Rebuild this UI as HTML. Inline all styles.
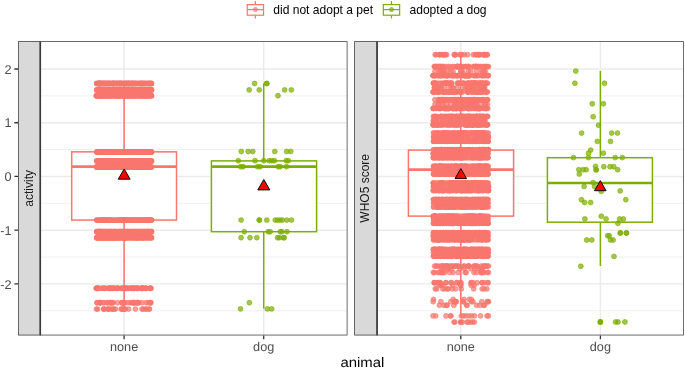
<!DOCTYPE html>
<html><head><meta charset="utf-8"><title>chart</title>
<style>
html,body{margin:0;padding:0;background:#fff;}
body{width:685px;height:369px;overflow:hidden;}
svg{display:block;font-family:"Liberation Sans",sans-serif;will-change:transform;}
.s circle{fill:#F8766D;fill-opacity:.7;stroke:#F8766D;stroke-opacity:.7;stroke-width:.9;r:2.45px}
.g circle{fill:#7CAE00;fill-opacity:.7;stroke:#7CAE00;stroke-opacity:.7;stroke-width:.9;r:2.45px}
.ax{font-size:12.7px;fill:#4D4D4D;text-rendering:geometricPrecision}
</style></head><body>
<svg width="685" height="369" viewBox="0 0 685 369">
<rect width="685" height="369" fill="#fff"/>
<rect x="40.3" y="41.2" width="307.2" height="294.2" fill="#fff"/>
<path d="M40.3 310.75H347.5M40.3 257.03H347.5M40.3 203.31H347.5M40.3 149.59H347.5M40.3 95.87H347.5" stroke="#EBEBEB" stroke-width=".75" fill="none"/>
<path d="M40.3 283.89H347.5M40.3 230.17H347.5M40.3 176.45H347.5M40.3 122.73H347.5M40.3 69.01H347.5M124.1 41.2V335.45M263.7 41.2V335.45" stroke="#EBEBEB" stroke-width="1.45" fill="none"/>
<rect x="377.1" y="41.2" width="306.7" height="294.2" fill="#fff"/>
<path d="M377.1 310.75H683.8M377.1 257.03H683.8M377.1 203.31H683.8M377.1 149.59H683.8M377.1 95.87H683.8" stroke="#EBEBEB" stroke-width=".75" fill="none"/>
<path d="M377.1 283.89H683.8M377.1 230.17H683.8M377.1 176.45H683.8M377.1 122.73H683.8M377.1 69.01H683.8M460.8 41.2V335.45M600.4 41.2V335.45" stroke="#EBEBEB" stroke-width="1.45" fill="none"/>
<g stroke="#F8766D" fill="none" stroke-width="1.5"><path d="M124.1 83.5V151.85M124.1 220.1V309.1"/><rect x="71.7" y="151.85" width="104.8" height="68.2" fill="#fff"/><path d="M71.7 166.6H176.5" stroke-width="2.6"/></g>
<g stroke="#7CAE00" fill="none" stroke-width="1.5"><path d="M263.7 83.5V160.9M263.7 231.7V308.6"/><rect x="211.4" y="160.9" width="105.2" height="70.8" fill="#fff"/><path d="M211.4 166.6H316.6" stroke-width="2.6"/></g>
<g stroke="#F8766D" fill="none" stroke-width="1.5"><path d="M460.8 54.7V150.1M460.8 216.1V317.5"/><rect x="408.4" y="150.1" width="105.2" height="66.0" fill="#fff"/><path d="M408.4 169.6H513.6" stroke-width="2.6"/></g>
<g stroke="#7CAE00" fill="none" stroke-width="1.5"><path d="M600.4 71.1V157.7M600.4 222.2V265.9"/><rect x="547.4" y="157.7" width="105.0" height="64.5" fill="#fff"/><path d="M547.4 183.0H652.4" stroke-width="2.6"/></g>
<circle cx="600.3" cy="322" r="2.9" fill="#7CAE00"/>
<circle cx="460.8" cy="322.1" r="2.9" fill="#F8766D"/>
<path d="M96.8 83.5H151.4M96.8 89.9H151.4M96.8 95.7H151.4M96.8 152H151.4M96.8 161H151.4M96.8 167H151.4M96.8 220.1H151.4M96.8 231.7H151.4M96.8 237.7H151.4" stroke="#F8766D" stroke-opacity="1" stroke-width="5.9" stroke-linecap="round" fill="none"/>
<g class="s"><circle cx="100.2" cy="231.7" r="2.45"/><circle cx="108" cy="309.1" r="2.45"/><circle cx="111.1" cy="237.7" r="2.45"/><circle cx="139.7" cy="152" r="2.45"/><circle cx="138.6" cy="220.1" r="2.45"/><circle cx="119.9" cy="231.7" r="2.45"/><circle cx="97.6" cy="309.1" r="2.45"/><circle cx="123" cy="161" r="2.45"/><circle cx="104.7" cy="89.9" r="2.45"/><circle cx="116" cy="152" r="2.45"/><circle cx="112.4" cy="237.7" r="2.45"/><circle cx="144" cy="231.7" r="2.45"/><circle cx="143.1" cy="220.1" r="2.45"/><circle cx="141.2" cy="161" r="2.45"/><circle cx="151.2" cy="231.7" r="2.45"/><circle cx="148.5" cy="161" r="2.45"/><circle cx="98.4" cy="89.9" r="2.45"/><circle cx="134.7" cy="95.7" r="2.45"/><circle cx="147.9" cy="231.7" r="2.45"/><circle cx="115.3" cy="152" r="2.45"/><circle cx="99.9" cy="302.7" r="2.45"/><circle cx="134.3" cy="288.3" r="2.45"/><circle cx="128.3" cy="89.9" r="2.45"/><circle cx="145.5" cy="95.7" r="2.45"/><circle cx="108.5" cy="161" r="2.45"/><circle cx="102.8" cy="89.9" r="2.45"/><circle cx="146.3" cy="220.1" r="2.45"/><circle cx="124.4" cy="288.3" r="2.45"/><circle cx="100.7" cy="89.9" r="2.45"/><circle cx="124.3" cy="288.3" r="2.45"/><circle cx="130.5" cy="152" r="2.45"/><circle cx="124.5" cy="237.7" r="2.45"/><circle cx="97" cy="167" r="2.45"/><circle cx="120.4" cy="167" r="2.45"/><circle cx="114" cy="231.7" r="2.45"/><circle cx="151.6" cy="89.9" r="2.45"/><circle cx="100.5" cy="302.7" r="2.45"/><circle cx="99.1" cy="95.7" r="2.45"/><circle cx="101.2" cy="231.7" r="2.45"/><circle cx="105.2" cy="237.7" r="2.45"/><circle cx="105.6" cy="89.9" r="2.45"/><circle cx="97.3" cy="231.7" r="2.45"/><circle cx="103.3" cy="161" r="2.45"/><circle cx="123.8" cy="302.7" r="2.45"/><circle cx="110.3" cy="302.7" r="2.45"/><circle cx="126.9" cy="95.7" r="2.45"/><circle cx="141.9" cy="237.7" r="2.45"/><circle cx="138.6" cy="237.7" r="2.45"/><circle cx="148.7" cy="220.1" r="2.45"/><circle cx="138.9" cy="89.9" r="2.45"/><circle cx="125.9" cy="167" r="2.45"/><circle cx="122.9" cy="302.7" r="2.45"/><circle cx="145.7" cy="309.1" r="2.45"/><circle cx="142.5" cy="152" r="2.45"/><circle cx="141.9" cy="152" r="2.45"/><circle cx="131.2" cy="288.3" r="2.45"/><circle cx="107.7" cy="83.5" r="2.45"/><circle cx="140.5" cy="83.5" r="2.45"/><circle cx="134.2" cy="288.3" r="2.45"/><circle cx="127.3" cy="167" r="2.45"/><circle cx="120.3" cy="220.1" r="2.45"/><circle cx="99.8" cy="231.7" r="2.45"/><circle cx="116.5" cy="152" r="2.45"/><circle cx="126.1" cy="288.3" r="2.45"/><circle cx="113.6" cy="237.7" r="2.45"/><circle cx="115.3" cy="237.7" r="2.45"/><circle cx="142.7" cy="220.1" r="2.45"/><circle cx="142.8" cy="288.3" r="2.45"/><circle cx="151.3" cy="161" r="2.45"/><circle cx="112.4" cy="83.5" r="2.45"/><circle cx="104.4" cy="302.7" r="2.45"/><circle cx="128.6" cy="309.1" r="2.45"/><circle cx="105.5" cy="152" r="2.45"/><circle cx="115.4" cy="309.1" r="2.45"/><circle cx="97.8" cy="161" r="2.45"/><circle cx="136.2" cy="220.1" r="2.45"/><circle cx="100" cy="95.7" r="2.45"/><circle cx="125.4" cy="309.1" r="2.45"/><circle cx="136.5" cy="231.7" r="2.45"/><circle cx="136.9" cy="302.7" r="2.45"/><circle cx="113.2" cy="288.3" r="2.45"/><circle cx="123.8" cy="237.7" r="2.45"/><circle cx="99.2" cy="95.7" r="2.45"/><circle cx="127.4" cy="220.1" r="2.45"/><circle cx="140" cy="167" r="2.45"/><circle cx="135.6" cy="237.7" r="2.45"/><circle cx="125.4" cy="288.3" r="2.45"/><circle cx="136.7" cy="167" r="2.45"/><circle cx="102.3" cy="237.7" r="2.45"/><circle cx="118.4" cy="220.1" r="2.45"/><circle cx="104.4" cy="161" r="2.45"/><circle cx="107.3" cy="302.7" r="2.45"/><circle cx="128.8" cy="167" r="2.45"/><circle cx="116.8" cy="95.7" r="2.45"/><circle cx="144.1" cy="83.5" r="2.45"/><circle cx="97.9" cy="288.3" r="2.45"/><circle cx="137.1" cy="288.3" r="2.45"/><circle cx="120.4" cy="83.5" r="2.45"/><circle cx="106.1" cy="237.7" r="2.45"/><circle cx="125.6" cy="237.7" r="2.45"/><circle cx="145.3" cy="288.3" r="2.45"/><circle cx="126.5" cy="152" r="2.45"/><circle cx="139.9" cy="161" r="2.45"/><circle cx="121.8" cy="167" r="2.45"/><circle cx="146.4" cy="161" r="2.45"/><circle cx="109.1" cy="309.1" r="2.45"/><circle cx="144.3" cy="231.7" r="2.45"/><circle cx="97.6" cy="95.7" r="2.45"/><circle cx="137.3" cy="302.7" r="2.45"/><circle cx="122.7" cy="288.3" r="2.45"/><circle cx="137.5" cy="237.7" r="2.45"/><circle cx="143.8" cy="152" r="2.45"/><circle cx="142.8" cy="288.3" r="2.45"/><circle cx="147.5" cy="231.7" r="2.45"/><circle cx="142.3" cy="83.5" r="2.45"/><circle cx="126.1" cy="83.5" r="2.45"/><circle cx="108.5" cy="220.1" r="2.45"/><circle cx="99.4" cy="231.7" r="2.45"/><circle cx="101.2" cy="288.3" r="2.45"/><circle cx="110.3" cy="167" r="2.45"/><circle cx="124.1" cy="237.7" r="2.45"/><circle cx="148.4" cy="302.7" r="2.45"/><circle cx="123.4" cy="220.1" r="2.45"/><circle cx="112.5" cy="167" r="2.45"/><circle cx="123.2" cy="152" r="2.45"/><circle cx="126.8" cy="83.5" r="2.45"/><circle cx="111.2" cy="302.7" r="2.45"/><circle cx="151.2" cy="152" r="2.45"/><circle cx="139.3" cy="152" r="2.45"/><circle cx="136.9" cy="89.9" r="2.45"/><circle cx="120.9" cy="220.1" r="2.45"/><circle cx="128.9" cy="83.5" r="2.45"/><circle cx="101.9" cy="152" r="2.45"/><circle cx="135" cy="89.9" r="2.45"/><circle cx="116.1" cy="288.3" r="2.45"/><circle cx="131" cy="231.7" r="2.45"/><circle cx="102.1" cy="288.3" r="2.45"/><circle cx="136.6" cy="161" r="2.45"/><circle cx="146.3" cy="309.1" r="2.45"/><circle cx="131.2" cy="288.3" r="2.45"/><circle cx="145.5" cy="220.1" r="2.45"/><circle cx="122.7" cy="89.9" r="2.45"/><circle cx="122.1" cy="302.7" r="2.45"/><circle cx="139" cy="302.7" r="2.45"/><circle cx="112.1" cy="89.9" r="2.45"/><circle cx="97.5" cy="288.3" r="2.45"/><circle cx="104.5" cy="152" r="2.45"/><circle cx="140.9" cy="161" r="2.45"/><circle cx="111.8" cy="161" r="2.45"/><circle cx="114.4" cy="167" r="2.45"/><circle cx="107.1" cy="231.7" r="2.45"/><circle cx="120.8" cy="231.7" r="2.45"/><circle cx="107.4" cy="288.3" r="2.45"/><circle cx="117.5" cy="288.3" r="2.45"/><circle cx="125.7" cy="288.3" r="2.45"/><circle cx="97.2" cy="302.7" r="2.45"/><circle cx="104.2" cy="83.5" r="2.45"/><circle cx="138.4" cy="89.9" r="2.45"/><circle cx="98.8" cy="83.5" r="2.45"/><circle cx="130.4" cy="220.1" r="2.45"/><circle cx="138" cy="288.3" r="2.45"/><circle cx="128.4" cy="83.5" r="2.45"/><circle cx="126.9" cy="237.7" r="2.45"/><circle cx="109.6" cy="220.1" r="2.45"/><circle cx="102.1" cy="167" r="2.45"/><circle cx="140.8" cy="161" r="2.45"/><circle cx="115.6" cy="152" r="2.45"/><circle cx="103.1" cy="152" r="2.45"/><circle cx="131.6" cy="95.7" r="2.45"/><circle cx="144.8" cy="167" r="2.45"/><circle cx="125.9" cy="152" r="2.45"/><circle cx="126.7" cy="288.3" r="2.45"/><circle cx="104.1" cy="309.1" r="2.45"/><circle cx="110.7" cy="167" r="2.45"/><circle cx="134.9" cy="220.1" r="2.45"/><circle cx="106" cy="95.7" r="2.45"/><circle cx="127.4" cy="288.3" r="2.45"/><circle cx="150.6" cy="302.7" r="2.45"/><circle cx="151.1" cy="288.3" r="2.45"/><circle cx="124.8" cy="220.1" r="2.45"/><circle cx="150.9" cy="161" r="2.45"/><circle cx="139.7" cy="95.7" r="2.45"/><circle cx="143.1" cy="288.3" r="2.45"/><circle cx="139.1" cy="89.9" r="2.45"/><circle cx="145.1" cy="89.9" r="2.45"/><circle cx="115.8" cy="161" r="2.45"/><circle cx="96.4" cy="288.3" r="2.45"/><circle cx="125.1" cy="152" r="2.45"/><circle cx="142.6" cy="237.7" r="2.45"/><circle cx="140.2" cy="231.7" r="2.45"/><circle cx="132.5" cy="83.5" r="2.45"/><circle cx="141.5" cy="288.3" r="2.45"/><circle cx="115.6" cy="237.7" r="2.45"/><circle cx="99.7" cy="83.5" r="2.45"/><circle cx="135.3" cy="231.7" r="2.45"/><circle cx="96.3" cy="288.3" r="2.45"/><circle cx="136.2" cy="288.3" r="2.45"/><circle cx="103.4" cy="237.7" r="2.45"/><circle cx="106.8" cy="237.7" r="2.45"/><circle cx="127.2" cy="167" r="2.45"/><circle cx="115.9" cy="167" r="2.45"/><circle cx="96.4" cy="309.1" r="2.45"/><circle cx="128.2" cy="89.9" r="2.45"/><circle cx="99.4" cy="83.5" r="2.45"/><circle cx="126.8" cy="167" r="2.45"/><circle cx="110.8" cy="152" r="2.45"/><circle cx="106.2" cy="161" r="2.45"/><circle cx="134.4" cy="302.7" r="2.45"/><circle cx="99.9" cy="231.7" r="2.45"/><circle cx="110.9" cy="288.3" r="2.45"/><circle cx="121.5" cy="231.7" r="2.45"/><circle cx="117.7" cy="89.9" r="2.45"/><circle cx="133.9" cy="302.7" r="2.45"/><circle cx="102.7" cy="89.9" r="2.45"/><circle cx="108.9" cy="152" r="2.45"/><circle cx="134.8" cy="161" r="2.45"/><circle cx="111.2" cy="309.1" r="2.45"/><circle cx="148.9" cy="89.9" r="2.45"/><circle cx="147.1" cy="231.7" r="2.45"/><circle cx="110.6" cy="231.7" r="2.45"/><circle cx="124.3" cy="288.3" r="2.45"/><circle cx="133.3" cy="89.9" r="2.45"/><circle cx="141.9" cy="95.7" r="2.45"/><circle cx="124.5" cy="220.1" r="2.45"/><circle cx="97.2" cy="237.7" r="2.45"/><circle cx="116.3" cy="288.3" r="2.45"/><circle cx="147.1" cy="220.1" r="2.45"/><circle cx="147.4" cy="167" r="2.45"/><circle cx="115.6" cy="237.7" r="2.45"/><circle cx="108.7" cy="83.5" r="2.45"/><circle cx="122.9" cy="161" r="2.45"/><circle cx="124.4" cy="220.1" r="2.45"/><circle cx="151.4" cy="220.1" r="2.45"/><circle cx="98.3" cy="83.5" r="2.45"/><circle cx="116.2" cy="95.7" r="2.45"/><circle cx="133.7" cy="302.7" r="2.45"/><circle cx="121.3" cy="309.1" r="2.45"/><circle cx="109.8" cy="288.3" r="2.45"/><circle cx="148.8" cy="220.1" r="2.45"/><circle cx="107.7" cy="302.7" r="2.45"/><circle cx="125.1" cy="167" r="2.45"/><circle cx="115.1" cy="231.7" r="2.45"/><circle cx="131.6" cy="231.7" r="2.45"/><circle cx="124.5" cy="83.5" r="2.45"/><circle cx="118.5" cy="95.7" r="2.45"/><circle cx="99.2" cy="237.7" r="2.45"/><circle cx="146" cy="288.3" r="2.45"/><circle cx="144.4" cy="95.7" r="2.45"/><circle cx="140.7" cy="288.3" r="2.45"/><circle cx="149.4" cy="309.1" r="2.45"/><circle cx="133" cy="220.1" r="2.45"/><circle cx="100.9" cy="231.7" r="2.45"/><circle cx="122.2" cy="302.7" r="2.45"/><circle cx="104.2" cy="220.1" r="2.45"/><circle cx="110.2" cy="237.7" r="2.45"/><circle cx="144.8" cy="288.3" r="2.45"/><circle cx="96.9" cy="302.7" r="2.45"/><circle cx="109.8" cy="83.5" r="2.45"/><circle cx="98.6" cy="288.3" r="2.45"/><circle cx="125.7" cy="152" r="2.45"/><circle cx="110.7" cy="161" r="2.45"/><circle cx="142" cy="302.7" r="2.45"/><circle cx="113.2" cy="302.7" r="2.45"/><circle cx="129.4" cy="89.9" r="2.45"/><circle cx="150.2" cy="302.7" r="2.45"/><circle cx="97.8" cy="152" r="2.45"/><circle cx="104.5" cy="231.7" r="2.45"/><circle cx="151.6" cy="152" r="2.45"/><circle cx="104" cy="288.3" r="2.45"/><circle cx="143.1" cy="309.1" r="2.45"/><circle cx="150.2" cy="220.1" r="2.45"/><circle cx="118" cy="89.9" r="2.45"/><circle cx="103.5" cy="167" r="2.45"/><circle cx="108.6" cy="152" r="2.45"/><circle cx="108.9" cy="161" r="2.45"/><circle cx="107.6" cy="161" r="2.45"/><circle cx="105.2" cy="220.1" r="2.45"/><circle cx="112.6" cy="288.3" r="2.45"/><circle cx="135.4" cy="309.1" r="2.45"/><circle cx="111.9" cy="288.3" r="2.45"/><circle cx="148.8" cy="220.1" r="2.45"/><circle cx="145.5" cy="95.7" r="2.45"/><circle cx="114.6" cy="152" r="2.45"/><circle cx="103.4" cy="89.9" r="2.45"/><circle cx="121.5" cy="83.5" r="2.45"/><circle cx="107.5" cy="237.7" r="2.45"/><circle cx="144.4" cy="152" r="2.45"/><circle cx="131.1" cy="288.3" r="2.45"/><circle cx="133.6" cy="220.1" r="2.45"/><circle cx="111.7" cy="95.7" r="2.45"/><circle cx="131.9" cy="83.5" r="2.45"/><circle cx="113.4" cy="83.5" r="2.45"/><circle cx="132.1" cy="302.7" r="2.45"/><circle cx="132.3" cy="89.9" r="2.45"/><circle cx="123.6" cy="309.1" r="2.45"/><circle cx="127.8" cy="95.7" r="2.45"/><circle cx="141.7" cy="83.5" r="2.45"/><circle cx="133" cy="302.7" r="2.45"/><circle cx="142.1" cy="89.9" r="2.45"/><circle cx="141.9" cy="231.7" r="2.45"/><circle cx="149" cy="161" r="2.45"/><circle cx="99.6" cy="302.7" r="2.45"/><circle cx="127.9" cy="302.7" r="2.45"/><circle cx="119.4" cy="95.7" r="2.45"/><circle cx="125" cy="302.7" r="2.45"/><circle cx="134.6" cy="237.7" r="2.45"/><circle cx="105.2" cy="152" r="2.45"/><circle cx="145" cy="152" r="2.45"/><circle cx="130.7" cy="95.7" r="2.45"/><circle cx="109.6" cy="167" r="2.45"/><circle cx="145" cy="95.7" r="2.45"/><circle cx="119.8" cy="231.7" r="2.45"/><circle cx="121.1" cy="288.3" r="2.45"/><circle cx="109.2" cy="95.7" r="2.45"/><circle cx="97.2" cy="167" r="2.45"/><circle cx="110.9" cy="95.7" r="2.45"/><circle cx="99.5" cy="83.5" r="2.45"/><circle cx="105.8" cy="167" r="2.45"/><circle cx="111" cy="152" r="2.45"/><circle cx="100.2" cy="83.5" r="2.45"/><circle cx="109.1" cy="95.7" r="2.45"/><circle cx="147" cy="161" r="2.45"/><circle cx="121.2" cy="161" r="2.45"/><circle cx="139.7" cy="231.7" r="2.45"/><circle cx="109.2" cy="288.3" r="2.45"/><circle cx="149.1" cy="83.5" r="2.45"/><circle cx="125.4" cy="167" r="2.45"/><circle cx="104.1" cy="309.1" r="2.45"/><circle cx="116.5" cy="161" r="2.45"/><circle cx="150.8" cy="302.7" r="2.45"/><circle cx="146.4" cy="95.7" r="2.45"/><circle cx="104.6" cy="95.7" r="2.45"/><circle cx="112.9" cy="83.5" r="2.45"/><circle cx="105.7" cy="161" r="2.45"/><circle cx="142.8" cy="237.7" r="2.45"/><circle cx="98.5" cy="288.3" r="2.45"/><circle cx="104.6" cy="95.7" r="2.45"/><circle cx="105" cy="288.3" r="2.45"/><circle cx="106.3" cy="83.5" r="2.45"/><circle cx="97.7" cy="152" r="2.45"/><circle cx="113.8" cy="309.1" r="2.45"/><circle cx="150.4" cy="161" r="2.45"/><circle cx="103.1" cy="83.5" r="2.45"/><circle cx="107.8" cy="95.7" r="2.45"/><circle cx="128.8" cy="288.3" r="2.45"/><circle cx="118.1" cy="95.7" r="2.45"/><circle cx="111.7" cy="167" r="2.45"/><circle cx="147" cy="167" r="2.45"/><circle cx="141.1" cy="288.3" r="2.45"/><circle cx="97.1" cy="237.7" r="2.45"/><circle cx="135" cy="152" r="2.45"/><circle cx="118.5" cy="288.3" r="2.45"/><circle cx="108" cy="167" r="2.45"/><circle cx="100.4" cy="302.7" r="2.45"/><circle cx="120.9" cy="220.1" r="2.45"/><circle cx="116.6" cy="83.5" r="2.45"/><circle cx="121.8" cy="302.7" r="2.45"/><circle cx="149.3" cy="220.1" r="2.45"/><circle cx="131.7" cy="237.7" r="2.45"/><circle cx="137.5" cy="302.7" r="2.45"/><circle cx="132.6" cy="161" r="2.45"/><circle cx="142.3" cy="288.3" r="2.45"/><circle cx="139.9" cy="220.1" r="2.45"/><circle cx="132.9" cy="288.3" r="2.45"/><circle cx="149.3" cy="152" r="2.45"/><circle cx="134.2" cy="83.5" r="2.45"/><circle cx="102.8" cy="302.7" r="2.45"/><circle cx="133.5" cy="89.9" r="2.45"/><circle cx="115.1" cy="231.7" r="2.45"/><circle cx="132.9" cy="161" r="2.45"/><circle cx="124.8" cy="231.7" r="2.45"/><circle cx="100.1" cy="237.7" r="2.45"/><circle cx="115.2" cy="95.7" r="2.45"/><circle cx="127.1" cy="231.7" r="2.45"/><circle cx="121.8" cy="288.3" r="2.45"/><circle cx="104.4" cy="152" r="2.45"/><circle cx="99" cy="237.7" r="2.45"/><circle cx="150.5" cy="288.3" r="2.45"/><circle cx="118.3" cy="83.5" r="2.45"/><circle cx="132.1" cy="288.3" r="2.45"/><circle cx="140.7" cy="95.7" r="2.45"/><circle cx="96.5" cy="288.3" r="2.45"/><circle cx="105.3" cy="237.7" r="2.45"/><circle cx="150.7" cy="83.5" r="2.45"/><circle cx="122.9" cy="220.1" r="2.45"/><circle cx="135.2" cy="83.5" r="2.45"/><circle cx="142.3" cy="167" r="2.45"/><circle cx="111" cy="231.7" r="2.45"/><circle cx="127.1" cy="231.7" r="2.45"/><circle cx="124.6" cy="309.1" r="2.45"/><circle cx="118.8" cy="237.7" r="2.45"/><circle cx="148.6" cy="231.7" r="2.45"/><circle cx="127.5" cy="167" r="2.45"/><circle cx="133.5" cy="89.9" r="2.45"/><circle cx="122" cy="89.9" r="2.45"/><circle cx="133.9" cy="95.7" r="2.45"/><circle cx="123.5" cy="89.9" r="2.45"/><circle cx="150.1" cy="288.3" r="2.45"/><circle cx="132.5" cy="167" r="2.45"/><circle cx="128.9" cy="167" r="2.45"/><circle cx="124.3" cy="288.3" r="2.45"/><circle cx="121.4" cy="309.1" r="2.45"/><circle cx="120.1" cy="83.5" r="2.45"/><circle cx="114.3" cy="83.5" r="2.45"/><circle cx="124.2" cy="167" r="2.45"/><circle cx="104.8" cy="220.1" r="2.45"/><circle cx="103.5" cy="167" r="2.45"/><circle cx="151" cy="237.7" r="2.45"/><circle cx="109.5" cy="237.7" r="2.45"/><circle cx="104.6" cy="161" r="2.45"/><circle cx="131.2" cy="83.5" r="2.45"/><circle cx="110.4" cy="302.7" r="2.45"/><circle cx="101.3" cy="83.5" r="2.45"/><circle cx="150.8" cy="152" r="2.45"/><circle cx="142.3" cy="161" r="2.45"/><circle cx="150.4" cy="167" r="2.45"/><circle cx="102" cy="231.7" r="2.45"/><circle cx="138.1" cy="161" r="2.45"/><circle cx="117.9" cy="288.3" r="2.45"/><circle cx="105.3" cy="95.7" r="2.45"/><circle cx="128.9" cy="288.3" r="2.45"/><circle cx="145" cy="89.9" r="2.45"/><circle cx="149.4" cy="95.7" r="2.45"/><circle cx="100.9" cy="237.7" r="2.45"/><circle cx="97.2" cy="231.7" r="2.45"/><circle cx="139.3" cy="220.1" r="2.45"/><circle cx="140.8" cy="167" r="2.45"/><circle cx="140.9" cy="231.7" r="2.45"/><circle cx="128.6" cy="89.9" r="2.45"/><circle cx="149.6" cy="161" r="2.45"/><circle cx="100.2" cy="220.1" r="2.45"/><circle cx="143.6" cy="152" r="2.45"/><circle cx="107.9" cy="309.1" r="2.45"/><circle cx="117" cy="83.5" r="2.45"/><circle cx="112.4" cy="302.7" r="2.45"/><circle cx="141.2" cy="152" r="2.45"/><circle cx="110.3" cy="152" r="2.45"/><circle cx="107.2" cy="161" r="2.45"/><circle cx="119.6" cy="95.7" r="2.45"/><circle cx="110.1" cy="167" r="2.45"/><circle cx="123.3" cy="309.1" r="2.45"/><circle cx="114.4" cy="288.3" r="2.45"/><circle cx="143.1" cy="161" r="2.45"/><circle cx="118.3" cy="161" r="2.45"/><circle cx="102.1" cy="237.7" r="2.45"/><circle cx="100.1" cy="83.5" r="2.45"/><circle cx="123.3" cy="95.7" r="2.45"/><circle cx="103.9" cy="220.1" r="2.45"/><circle cx="110.9" cy="288.3" r="2.45"/><circle cx="101.9" cy="95.7" r="2.45"/><circle cx="149.5" cy="161" r="2.45"/><circle cx="111" cy="302.7" r="2.45"/><circle cx="116.7" cy="152" r="2.45"/><circle cx="142.8" cy="288.3" r="2.45"/><circle cx="135.2" cy="220.1" r="2.45"/><circle cx="130.6" cy="302.7" r="2.45"/><circle cx="121.3" cy="89.9" r="2.45"/><circle cx="125.5" cy="89.9" r="2.45"/><circle cx="99.7" cy="95.7" r="2.45"/><circle cx="149.6" cy="95.7" r="2.45"/><circle cx="121.4" cy="220.1" r="2.45"/><circle cx="135.3" cy="89.9" r="2.45"/><circle cx="146.7" cy="161" r="2.45"/><circle cx="125.6" cy="167" r="2.45"/><circle cx="118.1" cy="237.7" r="2.45"/><circle cx="141.5" cy="152" r="2.45"/><circle cx="109" cy="288.3" r="2.45"/><circle cx="148.3" cy="167" r="2.45"/><circle cx="125" cy="95.7" r="2.45"/><circle cx="137.7" cy="302.7" r="2.45"/><circle cx="120.8" cy="167" r="2.45"/><circle cx="149.9" cy="288.3" r="2.45"/><circle cx="134.9" cy="288.3" r="2.45"/><circle cx="96.4" cy="167" r="2.45"/><circle cx="96.4" cy="95.7" r="2.45"/><circle cx="113.7" cy="83.5" r="2.45"/><circle cx="146.1" cy="302.7" r="2.45"/><circle cx="134.8" cy="302.7" r="2.45"/><circle cx="110" cy="89.9" r="2.45"/><circle cx="113.7" cy="89.9" r="2.45"/><circle cx="133.1" cy="161" r="2.45"/><circle cx="128" cy="231.7" r="2.45"/><circle cx="145.1" cy="220.1" r="2.45"/><circle cx="146.7" cy="167" r="2.45"/><circle cx="125.7" cy="152" r="2.45"/><circle cx="113" cy="309.1" r="2.45"/><circle cx="103.4" cy="231.7" r="2.45"/><circle cx="140.2" cy="161" r="2.45"/><circle cx="116.5" cy="95.7" r="2.45"/><circle cx="111.3" cy="231.7" r="2.45"/><circle cx="117.5" cy="302.7" r="2.45"/><circle cx="137.1" cy="237.7" r="2.45"/><circle cx="96.2" cy="95.7" r="2.45"/><circle cx="149" cy="309.1" r="2.45"/><circle cx="122.2" cy="152" r="2.45"/><circle cx="137.5" cy="152" r="2.45"/><circle cx="118.6" cy="161" r="2.45"/><circle cx="119.6" cy="167" r="2.45"/><circle cx="144.8" cy="89.9" r="2.45"/><circle cx="121.7" cy="89.9" r="2.45"/><circle cx="103.6" cy="309.1" r="2.45"/><circle cx="123.5" cy="288.3" r="2.45"/><circle cx="103.6" cy="288.3" r="2.45"/><circle cx="102.8" cy="83.5" r="2.45"/><circle cx="119.7" cy="167" r="2.45"/><circle cx="101" cy="152" r="2.45"/><circle cx="104.5" cy="288.3" r="2.45"/><circle cx="150.4" cy="231.7" r="2.45"/><circle cx="99.6" cy="89.9" r="2.45"/><circle cx="120.3" cy="237.7" r="2.45"/><circle cx="125" cy="220.1" r="2.45"/><circle cx="146" cy="288.3" r="2.45"/><circle cx="113.5" cy="288.3" r="2.45"/><circle cx="150.9" cy="89.9" r="2.45"/><circle cx="99.5" cy="89.9" r="2.45"/><circle cx="114.8" cy="161" r="2.45"/><circle cx="109.7" cy="288.3" r="2.45"/><circle cx="128.7" cy="83.5" r="2.45"/><circle cx="142" cy="309.1" r="2.45"/><circle cx="148.4" cy="237.7" r="2.45"/><circle cx="131" cy="161" r="2.45"/><circle cx="114.7" cy="231.7" r="2.45"/><circle cx="136.6" cy="288.3" r="2.45"/><circle cx="127.5" cy="220.1" r="2.45"/><circle cx="106.4" cy="167" r="2.45"/><circle cx="97.5" cy="152" r="2.45"/><circle cx="103" cy="220.1" r="2.45"/><circle cx="119.5" cy="89.9" r="2.45"/><circle cx="129.1" cy="95.7" r="2.45"/><circle cx="110.7" cy="220.1" r="2.45"/><circle cx="112.3" cy="89.9" r="2.45"/><circle cx="126" cy="220.1" r="2.45"/><circle cx="138.1" cy="288.3" r="2.45"/><circle cx="113.2" cy="237.7" r="2.45"/><circle cx="97.5" cy="89.9" r="2.45"/><circle cx="103.4" cy="237.7" r="2.45"/><circle cx="110.5" cy="237.7" r="2.45"/><circle cx="143.1" cy="89.9" r="2.45"/><circle cx="122.7" cy="237.7" r="2.45"/><circle cx="122.6" cy="167" r="2.45"/><circle cx="100.3" cy="220.1" r="2.45"/><circle cx="119.9" cy="83.5" r="2.45"/><circle cx="100.9" cy="161" r="2.45"/><circle cx="102" cy="95.7" r="2.45"/><circle cx="133.6" cy="288.3" r="2.45"/><circle cx="134.6" cy="231.7" r="2.45"/><circle cx="98.4" cy="231.7" r="2.45"/><circle cx="104.6" cy="83.5" r="2.45"/></g>
<g class="g"><circle cx="249.2" cy="89.9" r="2.45"/><circle cx="254.6" cy="83.5" r="2.45"/><circle cx="259.2" cy="89.9" r="2.45"/><circle cx="266.6" cy="83.5" r="2.45"/><circle cx="266.9" cy="83.5" r="2.45"/><circle cx="278" cy="95.7" r="2.45"/><circle cx="284.7" cy="89.9" r="2.45"/><circle cx="291.3" cy="89.9" r="2.45"/><circle cx="241.3" cy="151.5" r="2.45"/><circle cx="248.2" cy="151.5" r="2.45"/><circle cx="252.8" cy="151.5" r="2.45"/><circle cx="274.8" cy="151.5" r="2.45"/><circle cx="286.7" cy="151.5" r="2.45"/><circle cx="290.7" cy="151.5" r="2.45"/><circle cx="238.3" cy="160.7" r="2.45"/><circle cx="255" cy="160.7" r="2.45"/><circle cx="263.8" cy="160.7" r="2.45"/><circle cx="269.2" cy="160.7" r="2.45"/><circle cx="271.8" cy="160.7" r="2.45"/><circle cx="274.4" cy="160.7" r="2.45"/><circle cx="286.3" cy="160.7" r="2.45"/><circle cx="288.3" cy="160.7" r="2.45"/><circle cx="240.7" cy="166.7" r="2.45"/><circle cx="243.1" cy="166.7" r="2.45"/><circle cx="257.6" cy="166.7" r="2.45"/><circle cx="260.2" cy="166.7" r="2.45"/><circle cx="278.2" cy="166.7" r="2.45"/><circle cx="280.3" cy="166.7" r="2.45"/><circle cx="286.5" cy="166.7" r="2.45"/><circle cx="241.1" cy="220.1" r="2.45"/><circle cx="259.2" cy="220.1" r="2.45"/><circle cx="259.5" cy="220.1" r="2.45"/><circle cx="266.8" cy="220.1" r="2.45"/><circle cx="275.2" cy="220.1" r="2.45"/><circle cx="277.6" cy="220.1" r="2.45"/><circle cx="280.1" cy="220.1" r="2.45"/><circle cx="282.3" cy="220.1" r="2.45"/><circle cx="286.9" cy="220.1" r="2.45"/><circle cx="291.5" cy="220.1" r="2.45"/><circle cx="244.3" cy="231.7" r="2.45"/><circle cx="268.2" cy="231.7" r="2.45"/><circle cx="270.2" cy="231.7" r="2.45"/><circle cx="280.3" cy="231.7" r="2.45"/><circle cx="281.9" cy="231.7" r="2.45"/><circle cx="286.9" cy="231.7" r="2.45"/><circle cx="241.1" cy="237.7" r="2.45"/><circle cx="250" cy="237.7" r="2.45"/><circle cx="256.8" cy="237.7" r="2.45"/><circle cx="277.6" cy="237.7" r="2.45"/><circle cx="279.3" cy="237.7" r="2.45"/><circle cx="283.3" cy="237.7" r="2.45"/><circle cx="284.3" cy="237.7" r="2.45"/><circle cx="240.5" cy="308.9" r="2.45"/><circle cx="249.4" cy="302.7" r="2.45"/><circle cx="267.3" cy="308.9" r="2.45"/><circle cx="271.7" cy="308.9" r="2.45"/></g>
<path d="M433.5 133.1H488.1M433.5 137.1H488.1M433.5 141.2H488.1M433.5 149.7H488.1M433.5 153.6H488.1M433.5 157.6H488.1M433.5 166.3H488.1M433.5 170.1H488.1M433.5 174.1H488.1M433.5 183H488.1M433.5 186.5H488.1M433.5 190.5H488.1M433.5 199.6H488.1M433.5 203H488.1M433.5 206.9H488.1M433.5 216.2H488.1M433.5 219.4H488.1M433.5 223.3H488.1M433.5 232.8H488.1M433.5 235.9H488.1M433.5 239.7H488.1" stroke="#F8766D" stroke-opacity="0.93" stroke-width="5.6" stroke-linecap="round" fill="none"/>
<g class="s"><circle cx="446.6" cy="206.9" r="2.45"/><circle cx="483.6" cy="235.9" r="2.45"/><circle cx="457.4" cy="235.9" r="2.45"/><circle cx="440.9" cy="149.7" r="2.45"/><circle cx="438.8" cy="282.7" r="2.45"/><circle cx="458.6" cy="223.3" r="2.45"/><circle cx="466.4" cy="256.1" r="2.45"/><circle cx="438.6" cy="120.7" r="2.45"/><circle cx="434.8" cy="170.1" r="2.45"/><circle cx="440" cy="219.4" r="2.45"/><circle cx="435.4" cy="137.1" r="2.45"/><circle cx="456.6" cy="235.9" r="2.45"/><circle cx="463.8" cy="239.7" r="2.45"/><circle cx="478.8" cy="149.7" r="2.45"/><circle cx="464" cy="299.4" r="2.45"/><circle cx="480.4" cy="133.1" r="2.45"/><circle cx="443.2" cy="232.8" r="2.45"/><circle cx="488.2" cy="190.5" r="2.45"/><circle cx="472.8" cy="199.6" r="2.45"/><circle cx="440.8" cy="99.8" r="2.45"/><circle cx="435" cy="66.6" r="2.45"/><circle cx="449.9" cy="170.1" r="2.45"/><circle cx="477.6" cy="266.1" r="2.45"/><circle cx="476.1" cy="256.1" r="2.45"/><circle cx="466.1" cy="249.5" r="2.45"/><circle cx="444.4" cy="153.6" r="2.45"/><circle cx="439.3" cy="249.5" r="2.45"/><circle cx="462.6" cy="99.8" r="2.45"/><circle cx="436.2" cy="116.5" r="2.45"/><circle cx="459.9" cy="256.1" r="2.45"/><circle cx="487.1" cy="315.9" r="2.45"/><circle cx="464.3" cy="206.9" r="2.45"/><circle cx="438.6" cy="124.8" r="2.45"/><circle cx="479.8" cy="116.5" r="2.45"/><circle cx="457.8" cy="120.7" r="2.45"/><circle cx="447.7" cy="116.5" r="2.45"/><circle cx="445.8" cy="282.7" r="2.45"/><circle cx="471.9" cy="157.6" r="2.45"/><circle cx="487.3" cy="272.5" r="2.45"/><circle cx="484.2" cy="71.3" r="2.45"/><circle cx="433.2" cy="120.7" r="2.45"/><circle cx="474.6" cy="166.3" r="2.45"/><circle cx="433.5" cy="223.3" r="2.45"/><circle cx="479.3" cy="223.3" r="2.45"/><circle cx="476.6" cy="104.2" r="2.45"/><circle cx="451.9" cy="249.5" r="2.45"/><circle cx="468.2" cy="170.1" r="2.45"/><circle cx="470.6" cy="239.7" r="2.45"/><circle cx="445.4" cy="266.1" r="2.45"/><circle cx="451.9" cy="252.4" r="2.45"/><circle cx="434.2" cy="256.1" r="2.45"/><circle cx="451.4" cy="124.8" r="2.45"/><circle cx="458.1" cy="149.7" r="2.45"/><circle cx="468.9" cy="266.1" r="2.45"/><circle cx="450.2" cy="83.2" r="2.45"/><circle cx="461.5" cy="206.9" r="2.45"/><circle cx="471.5" cy="87.8" r="2.45"/><circle cx="474.9" cy="99.8" r="2.45"/><circle cx="450.8" cy="157.6" r="2.45"/><circle cx="449.5" cy="239.7" r="2.45"/><circle cx="474.3" cy="83.2" r="2.45"/><circle cx="473.6" cy="124.8" r="2.45"/><circle cx="463" cy="116.5" r="2.45"/><circle cx="436.6" cy="203" r="2.45"/><circle cx="440.9" cy="116.5" r="2.45"/><circle cx="480.1" cy="54.7" r="2.45"/><circle cx="442.3" cy="71.3" r="2.45"/><circle cx="447.8" cy="108.4" r="2.45"/><circle cx="434.8" cy="116.5" r="2.45"/><circle cx="448.9" cy="92" r="2.45"/><circle cx="447.2" cy="92" r="2.45"/><circle cx="438" cy="92" r="2.45"/><circle cx="471.3" cy="299.4" r="2.45"/><circle cx="454.6" cy="186.5" r="2.45"/><circle cx="476.6" cy="108.4" r="2.45"/><circle cx="487.1" cy="203" r="2.45"/><circle cx="460.7" cy="92" r="2.45"/><circle cx="438.2" cy="239.7" r="2.45"/><circle cx="436.1" cy="108.4" r="2.45"/><circle cx="453.7" cy="249.5" r="2.45"/><circle cx="472.1" cy="99.8" r="2.45"/><circle cx="465.5" cy="75.6" r="2.45"/><circle cx="468.6" cy="256.1" r="2.45"/><circle cx="434.4" cy="87.8" r="2.45"/><circle cx="456.5" cy="170.1" r="2.45"/><circle cx="435.1" cy="120.7" r="2.45"/><circle cx="451.4" cy="116.5" r="2.45"/><circle cx="472.3" cy="203" r="2.45"/><circle cx="435.4" cy="249.5" r="2.45"/><circle cx="462.5" cy="239.7" r="2.45"/><circle cx="465.3" cy="252.4" r="2.45"/><circle cx="466.8" cy="83.2" r="2.45"/><circle cx="474.3" cy="108.4" r="2.45"/><circle cx="455.8" cy="301.7" r="2.45"/><circle cx="485.3" cy="141.2" r="2.45"/><circle cx="471" cy="282.7" r="2.45"/><circle cx="465.8" cy="249.5" r="2.45"/><circle cx="487.8" cy="108.4" r="2.45"/><circle cx="482.8" cy="116.5" r="2.45"/><circle cx="447.3" cy="256.1" r="2.45"/><circle cx="454.9" cy="219.4" r="2.45"/><circle cx="474.3" cy="256.1" r="2.45"/><circle cx="452.6" cy="190.5" r="2.45"/><circle cx="448.6" cy="108.4" r="2.45"/><circle cx="459.9" cy="203" r="2.45"/><circle cx="467.5" cy="239.7" r="2.45"/><circle cx="466.8" cy="216.2" r="2.45"/><circle cx="475.5" cy="120.7" r="2.45"/><circle cx="472.8" cy="157.6" r="2.45"/><circle cx="447.7" cy="190.5" r="2.45"/><circle cx="481.8" cy="256.1" r="2.45"/><circle cx="452.4" cy="288.9" r="2.45"/><circle cx="463.5" cy="223.3" r="2.45"/><circle cx="460.5" cy="92" r="2.45"/><circle cx="442" cy="157.6" r="2.45"/><circle cx="441.7" cy="235.9" r="2.45"/><circle cx="439.2" cy="285.3" r="2.45"/><circle cx="475.1" cy="249.5" r="2.45"/><circle cx="466.9" cy="120.7" r="2.45"/><circle cx="485.6" cy="92" r="2.45"/><circle cx="461.5" cy="104.2" r="2.45"/><circle cx="478.2" cy="239.7" r="2.45"/><circle cx="435.3" cy="190.5" r="2.45"/><circle cx="451.8" cy="116.5" r="2.45"/><circle cx="486.2" cy="170.1" r="2.45"/><circle cx="438.6" cy="108.4" r="2.45"/><circle cx="437.9" cy="219.4" r="2.45"/><circle cx="436.5" cy="137.1" r="2.45"/><circle cx="465.8" cy="87.8" r="2.45"/><circle cx="471.5" cy="219.4" r="2.45"/><circle cx="449.7" cy="120.7" r="2.45"/><circle cx="444.7" cy="116.5" r="2.45"/><circle cx="461" cy="92" r="2.45"/><circle cx="446" cy="66.6" r="2.45"/><circle cx="482.6" cy="199.6" r="2.45"/><circle cx="473.6" cy="99.8" r="2.45"/><circle cx="433.8" cy="157.6" r="2.45"/><circle cx="445.2" cy="141.2" r="2.45"/><circle cx="474.8" cy="223.3" r="2.45"/><circle cx="442.8" cy="206.9" r="2.45"/><circle cx="468.9" cy="75.6" r="2.45"/><circle cx="444.2" cy="149.7" r="2.45"/><circle cx="435.4" cy="199.6" r="2.45"/><circle cx="438.5" cy="249.5" r="2.45"/><circle cx="450.2" cy="174.1" r="2.45"/><circle cx="485.4" cy="83.2" r="2.45"/><circle cx="462.6" cy="190.5" r="2.45"/><circle cx="487.7" cy="66.6" r="2.45"/><circle cx="473" cy="301.7" r="2.45"/><circle cx="443" cy="137.1" r="2.45"/><circle cx="462" cy="133.1" r="2.45"/><circle cx="457.4" cy="116.5" r="2.45"/><circle cx="442" cy="235.9" r="2.45"/><circle cx="453.3" cy="116.5" r="2.45"/><circle cx="451.1" cy="232.8" r="2.45"/><circle cx="472.1" cy="223.3" r="2.45"/><circle cx="450" cy="66.6" r="2.45"/><circle cx="481.6" cy="157.6" r="2.45"/><circle cx="455.6" cy="75.6" r="2.45"/><circle cx="444.2" cy="92" r="2.45"/><circle cx="467.5" cy="199.6" r="2.45"/><circle cx="485.4" cy="256.1" r="2.45"/><circle cx="435.7" cy="120.7" r="2.45"/><circle cx="470.2" cy="149.7" r="2.45"/><circle cx="447.1" cy="137.1" r="2.45"/><circle cx="451.4" cy="268.8" r="2.45"/><circle cx="456.8" cy="124.8" r="2.45"/><circle cx="487.4" cy="124.8" r="2.45"/><circle cx="433.6" cy="141.2" r="2.45"/><circle cx="450.2" cy="256.1" r="2.45"/><circle cx="477.6" cy="249.5" r="2.45"/><circle cx="465.7" cy="239.7" r="2.45"/><circle cx="468.3" cy="92" r="2.45"/><circle cx="437.7" cy="92" r="2.45"/><circle cx="482.5" cy="92" r="2.45"/><circle cx="467" cy="249.5" r="2.45"/><circle cx="479.3" cy="92" r="2.45"/><circle cx="443.9" cy="256.1" r="2.45"/><circle cx="447.4" cy="83.2" r="2.45"/><circle cx="480.6" cy="235.9" r="2.45"/><circle cx="454.2" cy="157.6" r="2.45"/><circle cx="482.3" cy="99.8" r="2.45"/><circle cx="468.5" cy="75.6" r="2.45"/><circle cx="439.8" cy="54.7" r="2.45"/><circle cx="441.9" cy="216.2" r="2.45"/><circle cx="468.5" cy="219.4" r="2.45"/><circle cx="436.1" cy="153.6" r="2.45"/><circle cx="477.8" cy="54.7" r="2.45"/><circle cx="444.3" cy="186.5" r="2.45"/><circle cx="443.3" cy="108.4" r="2.45"/><circle cx="460" cy="268.8" r="2.45"/><circle cx="456.7" cy="137.1" r="2.45"/><circle cx="442.3" cy="232.8" r="2.45"/><circle cx="480.7" cy="87.8" r="2.45"/><circle cx="468.1" cy="83.2" r="2.45"/><circle cx="462.9" cy="186.5" r="2.45"/><circle cx="444.9" cy="92" r="2.45"/><circle cx="469.2" cy="174.1" r="2.45"/><circle cx="486.5" cy="249.5" r="2.45"/><circle cx="484.7" cy="219.4" r="2.45"/><circle cx="463.5" cy="249.5" r="2.45"/><circle cx="452.8" cy="75.6" r="2.45"/><circle cx="452.6" cy="199.6" r="2.45"/><circle cx="471.7" cy="219.4" r="2.45"/><circle cx="459.9" cy="116.5" r="2.45"/><circle cx="485.7" cy="137.1" r="2.45"/><circle cx="461.1" cy="170.1" r="2.45"/><circle cx="454" cy="322.1" r="2.45"/><circle cx="480.1" cy="232.8" r="2.45"/><circle cx="462.2" cy="166.3" r="2.45"/><circle cx="446.8" cy="199.6" r="2.45"/><circle cx="451.3" cy="256.1" r="2.45"/><circle cx="471.1" cy="133.1" r="2.45"/><circle cx="445.4" cy="108.4" r="2.45"/><circle cx="452.1" cy="239.7" r="2.45"/><circle cx="441" cy="124.8" r="2.45"/><circle cx="470.8" cy="216.2" r="2.45"/><circle cx="449.3" cy="108.4" r="2.45"/><circle cx="478.2" cy="153.6" r="2.45"/><circle cx="473.2" cy="203" r="2.45"/><circle cx="486.7" cy="186.5" r="2.45"/><circle cx="436.2" cy="219.4" r="2.45"/><circle cx="484.2" cy="120.7" r="2.45"/><circle cx="450.6" cy="149.7" r="2.45"/><circle cx="487.9" cy="141.2" r="2.45"/><circle cx="484.1" cy="249.5" r="2.45"/><circle cx="484.7" cy="149.7" r="2.45"/><circle cx="459.1" cy="108.4" r="2.45"/><circle cx="454.8" cy="141.2" r="2.45"/><circle cx="451" cy="235.9" r="2.45"/><circle cx="458.9" cy="83.2" r="2.45"/><circle cx="485.2" cy="166.3" r="2.45"/><circle cx="435.1" cy="216.2" r="2.45"/><circle cx="436.2" cy="239.7" r="2.45"/><circle cx="453.9" cy="203" r="2.45"/><circle cx="446.5" cy="75.6" r="2.45"/><circle cx="443.7" cy="249.5" r="2.45"/><circle cx="439.1" cy="219.4" r="2.45"/><circle cx="440.8" cy="87.8" r="2.45"/><circle cx="473.8" cy="266.1" r="2.45"/><circle cx="439.1" cy="249.5" r="2.45"/><circle cx="471.4" cy="282.7" r="2.45"/><circle cx="437.7" cy="219.4" r="2.45"/><circle cx="439.1" cy="92" r="2.45"/><circle cx="486" cy="170.1" r="2.45"/><circle cx="460.5" cy="157.6" r="2.45"/><circle cx="457.3" cy="92" r="2.45"/><circle cx="484.2" cy="232.8" r="2.45"/><circle cx="447.3" cy="149.7" r="2.45"/><circle cx="456.9" cy="99.8" r="2.45"/><circle cx="446.5" cy="203" r="2.45"/><circle cx="481.3" cy="133.1" r="2.45"/><circle cx="470.9" cy="249.5" r="2.45"/><circle cx="479.4" cy="108.4" r="2.45"/><circle cx="476.1" cy="232.8" r="2.45"/><circle cx="468.9" cy="75.6" r="2.45"/><circle cx="486.4" cy="137.1" r="2.45"/><circle cx="476.5" cy="104.2" r="2.45"/><circle cx="470.6" cy="104.2" r="2.45"/><circle cx="439.2" cy="249.5" r="2.45"/><circle cx="446.3" cy="166.3" r="2.45"/><circle cx="459" cy="116.5" r="2.45"/><circle cx="445.5" cy="108.4" r="2.45"/><circle cx="468.7" cy="104.2" r="2.45"/><circle cx="453.2" cy="223.3" r="2.45"/><circle cx="456.7" cy="186.5" r="2.45"/><circle cx="444" cy="305.3" r="2.45"/><circle cx="468" cy="75.6" r="2.45"/><circle cx="443.4" cy="190.5" r="2.45"/><circle cx="478.2" cy="92" r="2.45"/><circle cx="442.1" cy="256.1" r="2.45"/><circle cx="477.8" cy="166.3" r="2.45"/><circle cx="455.2" cy="301.7" r="2.45"/><circle cx="444.6" cy="272.5" r="2.45"/><circle cx="479.7" cy="66.6" r="2.45"/><circle cx="435.7" cy="124.8" r="2.45"/><circle cx="441.3" cy="249.5" r="2.45"/><circle cx="458.6" cy="133.1" r="2.45"/><circle cx="463.4" cy="174.1" r="2.45"/><circle cx="455.4" cy="116.5" r="2.45"/><circle cx="483.6" cy="206.9" r="2.45"/><circle cx="445.1" cy="54.7" r="2.45"/><circle cx="482.3" cy="133.1" r="2.45"/><circle cx="437.8" cy="153.6" r="2.45"/><circle cx="434.5" cy="266.1" r="2.45"/><circle cx="455.1" cy="137.1" r="2.45"/><circle cx="444.3" cy="75.6" r="2.45"/><circle cx="443.8" cy="141.2" r="2.45"/><circle cx="484.4" cy="256.1" r="2.45"/><circle cx="481.6" cy="249.5" r="2.45"/><circle cx="476.1" cy="256.1" r="2.45"/><circle cx="468.1" cy="92" r="2.45"/><circle cx="487.6" cy="223.3" r="2.45"/><circle cx="449.4" cy="174.1" r="2.45"/><circle cx="482.6" cy="116.5" r="2.45"/><circle cx="474.5" cy="83.2" r="2.45"/><circle cx="436.6" cy="174.1" r="2.45"/><circle cx="435.2" cy="216.2" r="2.45"/><circle cx="462.4" cy="252.4" r="2.45"/><circle cx="460.8" cy="252.4" r="2.45"/><circle cx="449.8" cy="120.7" r="2.45"/><circle cx="471.6" cy="99.8" r="2.45"/><circle cx="449.9" cy="183" r="2.45"/><circle cx="433.2" cy="124.8" r="2.45"/><circle cx="485.2" cy="252.4" r="2.45"/><circle cx="460.2" cy="232.8" r="2.45"/><circle cx="463.3" cy="120.7" r="2.45"/><circle cx="434.5" cy="256.1" r="2.45"/><circle cx="464.2" cy="252.4" r="2.45"/><circle cx="464.5" cy="137.1" r="2.45"/><circle cx="461.7" cy="223.3" r="2.45"/><circle cx="442.8" cy="266.1" r="2.45"/><circle cx="445.9" cy="83.2" r="2.45"/><circle cx="458.2" cy="104.2" r="2.45"/><circle cx="451.4" cy="256.1" r="2.45"/><circle cx="447" cy="108.4" r="2.45"/><circle cx="440.7" cy="116.5" r="2.45"/><circle cx="454.5" cy="301.7" r="2.45"/><circle cx="466.5" cy="124.8" r="2.45"/><circle cx="460.7" cy="186.5" r="2.45"/><circle cx="488.6" cy="149.7" r="2.45"/><circle cx="486.4" cy="203" r="2.45"/><circle cx="438.9" cy="87.8" r="2.45"/><circle cx="436.3" cy="223.3" r="2.45"/><circle cx="475.9" cy="116.5" r="2.45"/><circle cx="481.6" cy="252.4" r="2.45"/><circle cx="444.6" cy="219.4" r="2.45"/><circle cx="470.7" cy="141.2" r="2.45"/><circle cx="452" cy="203" r="2.45"/><circle cx="452.9" cy="219.4" r="2.45"/><circle cx="438.9" cy="266.1" r="2.45"/><circle cx="483.3" cy="149.7" r="2.45"/><circle cx="472.9" cy="223.3" r="2.45"/><circle cx="444.2" cy="266.1" r="2.45"/><circle cx="440.7" cy="149.7" r="2.45"/><circle cx="477.1" cy="133.1" r="2.45"/><circle cx="487.5" cy="83.2" r="2.45"/><circle cx="433.7" cy="256.1" r="2.45"/><circle cx="463.8" cy="149.7" r="2.45"/><circle cx="479.3" cy="124.8" r="2.45"/><circle cx="481.7" cy="203" r="2.45"/><circle cx="460.6" cy="285.3" r="2.45"/><circle cx="486.9" cy="54.7" r="2.45"/><circle cx="433.5" cy="75.6" r="2.45"/><circle cx="439.8" cy="203" r="2.45"/><circle cx="451.8" cy="282.7" r="2.45"/><circle cx="464.3" cy="120.7" r="2.45"/><circle cx="485.6" cy="232.8" r="2.45"/><circle cx="455" cy="239.7" r="2.45"/><circle cx="464.3" cy="116.5" r="2.45"/><circle cx="468.6" cy="75.6" r="2.45"/><circle cx="479" cy="232.8" r="2.45"/><circle cx="455.6" cy="252.4" r="2.45"/><circle cx="477.1" cy="116.5" r="2.45"/><circle cx="468.4" cy="116.5" r="2.45"/><circle cx="482.8" cy="249.5" r="2.45"/><circle cx="447.1" cy="75.6" r="2.45"/><circle cx="448.7" cy="203" r="2.45"/><circle cx="440.9" cy="71.3" r="2.45"/><circle cx="451" cy="141.2" r="2.45"/><circle cx="456" cy="256.1" r="2.45"/><circle cx="459.8" cy="141.2" r="2.45"/><circle cx="475.7" cy="223.3" r="2.45"/><circle cx="449.3" cy="153.6" r="2.45"/><circle cx="476.3" cy="166.3" r="2.45"/><circle cx="441" cy="141.2" r="2.45"/><circle cx="475.2" cy="92" r="2.45"/><circle cx="456.8" cy="282.7" r="2.45"/><circle cx="434.8" cy="252.4" r="2.45"/><circle cx="472.5" cy="174.1" r="2.45"/><circle cx="464" cy="137.1" r="2.45"/><circle cx="463.6" cy="252.4" r="2.45"/><circle cx="457.2" cy="153.6" r="2.45"/><circle cx="466.5" cy="256.1" r="2.45"/><circle cx="465.6" cy="190.5" r="2.45"/><circle cx="444.8" cy="120.7" r="2.45"/><circle cx="438" cy="66.6" r="2.45"/><circle cx="483.9" cy="120.7" r="2.45"/><circle cx="459.1" cy="174.1" r="2.45"/><circle cx="462.2" cy="186.5" r="2.45"/><circle cx="476.8" cy="92" r="2.45"/><circle cx="442.9" cy="252.4" r="2.45"/><circle cx="465.8" cy="75.6" r="2.45"/><circle cx="460.7" cy="183" r="2.45"/><circle cx="453.3" cy="266.1" r="2.45"/><circle cx="466.4" cy="66.6" r="2.45"/><circle cx="434" cy="137.1" r="2.45"/><circle cx="481.2" cy="157.6" r="2.45"/><circle cx="480.5" cy="315.9" r="2.45"/><circle cx="453.7" cy="249.5" r="2.45"/><circle cx="466.3" cy="256.1" r="2.45"/><circle cx="448.6" cy="252.4" r="2.45"/><circle cx="436.6" cy="206.9" r="2.45"/><circle cx="487.3" cy="54.7" r="2.45"/><circle cx="458.5" cy="66.6" r="2.45"/><circle cx="482.2" cy="206.9" r="2.45"/><circle cx="479" cy="166.3" r="2.45"/><circle cx="467.4" cy="66.6" r="2.45"/><circle cx="482" cy="186.5" r="2.45"/><circle cx="447.5" cy="252.4" r="2.45"/><circle cx="459.5" cy="133.1" r="2.45"/><circle cx="488" cy="256.1" r="2.45"/><circle cx="478.6" cy="232.8" r="2.45"/><circle cx="464.9" cy="239.7" r="2.45"/><circle cx="454.9" cy="92" r="2.45"/><circle cx="440.8" cy="223.3" r="2.45"/><circle cx="486.1" cy="157.6" r="2.45"/><circle cx="438.6" cy="157.6" r="2.45"/><circle cx="464.2" cy="203" r="2.45"/><circle cx="433.5" cy="124.8" r="2.45"/><circle cx="434.6" cy="92" r="2.45"/><circle cx="447" cy="239.7" r="2.45"/><circle cx="483.4" cy="141.2" r="2.45"/><circle cx="439.7" cy="190.5" r="2.45"/><circle cx="463.8" cy="190.5" r="2.45"/><circle cx="450" cy="190.5" r="2.45"/><circle cx="461.9" cy="157.6" r="2.45"/><circle cx="435.1" cy="141.2" r="2.45"/><circle cx="464.8" cy="183" r="2.45"/><circle cx="437.1" cy="249.5" r="2.45"/><circle cx="452.2" cy="116.5" r="2.45"/><circle cx="478.6" cy="87.8" r="2.45"/><circle cx="458.3" cy="104.2" r="2.45"/><circle cx="447.7" cy="170.1" r="2.45"/><circle cx="436.8" cy="170.1" r="2.45"/><circle cx="457" cy="75.6" r="2.45"/><circle cx="483.9" cy="133.1" r="2.45"/><circle cx="484.8" cy="104.2" r="2.45"/><circle cx="453" cy="75.6" r="2.45"/><circle cx="484.3" cy="186.5" r="2.45"/><circle cx="454" cy="66.6" r="2.45"/><circle cx="479.1" cy="219.4" r="2.45"/><circle cx="465.2" cy="99.8" r="2.45"/><circle cx="472.3" cy="223.3" r="2.45"/><circle cx="458.2" cy="252.4" r="2.45"/><circle cx="462.7" cy="203" r="2.45"/><circle cx="468.5" cy="108.4" r="2.45"/><circle cx="448.2" cy="252.4" r="2.45"/><circle cx="487.8" cy="75.6" r="2.45"/><circle cx="476.1" cy="99.8" r="2.45"/><circle cx="437.6" cy="223.3" r="2.45"/><circle cx="464.4" cy="266.1" r="2.45"/><circle cx="451.9" cy="153.6" r="2.45"/><circle cx="457.2" cy="166.3" r="2.45"/><circle cx="449.1" cy="203" r="2.45"/><circle cx="476.4" cy="137.1" r="2.45"/><circle cx="442.1" cy="66.6" r="2.45"/><circle cx="485" cy="149.7" r="2.45"/><circle cx="477.6" cy="108.4" r="2.45"/><circle cx="465" cy="124.8" r="2.45"/><circle cx="478.1" cy="256.1" r="2.45"/><circle cx="457.4" cy="99.8" r="2.45"/><circle cx="481.5" cy="137.1" r="2.45"/><circle cx="471.7" cy="83.2" r="2.45"/><circle cx="446.8" cy="75.6" r="2.45"/><circle cx="485.2" cy="170.1" r="2.45"/><circle cx="439.7" cy="166.3" r="2.45"/><circle cx="456.8" cy="108.4" r="2.45"/><circle cx="471.1" cy="124.8" r="2.45"/><circle cx="451" cy="223.3" r="2.45"/><circle cx="438.8" cy="137.1" r="2.45"/><circle cx="461.8" cy="133.1" r="2.45"/><circle cx="446.2" cy="83.2" r="2.45"/><circle cx="457.9" cy="223.3" r="2.45"/><circle cx="485.2" cy="75.6" r="2.45"/><circle cx="460.4" cy="166.3" r="2.45"/><circle cx="458.2" cy="256.1" r="2.45"/><circle cx="472.7" cy="104.2" r="2.45"/><circle cx="488.4" cy="315.9" r="2.45"/><circle cx="453" cy="71.3" r="2.45"/><circle cx="466.8" cy="116.5" r="2.45"/><circle cx="477.4" cy="92" r="2.45"/><circle cx="472.7" cy="149.7" r="2.45"/><circle cx="447.6" cy="99.8" r="2.45"/><circle cx="441" cy="87.8" r="2.45"/><circle cx="488.6" cy="186.5" r="2.45"/><circle cx="471" cy="116.5" r="2.45"/><circle cx="454.1" cy="216.2" r="2.45"/><circle cx="469.1" cy="256.1" r="2.45"/><circle cx="470" cy="116.5" r="2.45"/><circle cx="452.6" cy="108.4" r="2.45"/><circle cx="477.4" cy="75.6" r="2.45"/><circle cx="453.1" cy="206.9" r="2.45"/><circle cx="463.9" cy="256.1" r="2.45"/><circle cx="480" cy="186.5" r="2.45"/><circle cx="442.4" cy="190.5" r="2.45"/><circle cx="452.3" cy="235.9" r="2.45"/><circle cx="436" cy="256.1" r="2.45"/><circle cx="445.5" cy="83.2" r="2.45"/><circle cx="457.5" cy="174.1" r="2.45"/><circle cx="479" cy="203" r="2.45"/><circle cx="433.8" cy="124.8" r="2.45"/><circle cx="484.6" cy="305.3" r="2.45"/><circle cx="441.2" cy="75.6" r="2.45"/><circle cx="436.9" cy="223.3" r="2.45"/><circle cx="442.3" cy="249.5" r="2.45"/><circle cx="451.6" cy="149.7" r="2.45"/><circle cx="456.5" cy="104.2" r="2.45"/><circle cx="484.9" cy="124.8" r="2.45"/><circle cx="441.2" cy="170.1" r="2.45"/><circle cx="457.1" cy="170.1" r="2.45"/><circle cx="448" cy="149.7" r="2.45"/><circle cx="446.5" cy="252.4" r="2.45"/><circle cx="487.7" cy="166.3" r="2.45"/><circle cx="481.6" cy="71.3" r="2.45"/><circle cx="445.3" cy="174.1" r="2.45"/><circle cx="456.3" cy="66.6" r="2.45"/><circle cx="473.8" cy="124.8" r="2.45"/><circle cx="439.7" cy="108.4" r="2.45"/><circle cx="447.5" cy="266.1" r="2.45"/><circle cx="445" cy="92" r="2.45"/><circle cx="441.8" cy="54.7" r="2.45"/><circle cx="451.2" cy="83.2" r="2.45"/><circle cx="440.8" cy="83.2" r="2.45"/><circle cx="465.4" cy="199.6" r="2.45"/><circle cx="470.8" cy="249.5" r="2.45"/><circle cx="479.8" cy="166.3" r="2.45"/><circle cx="434.8" cy="99.8" r="2.45"/><circle cx="452.7" cy="75.6" r="2.45"/><circle cx="441.5" cy="99.8" r="2.45"/><circle cx="449.1" cy="249.5" r="2.45"/><circle cx="459.7" cy="108.4" r="2.45"/><circle cx="448.7" cy="235.9" r="2.45"/><circle cx="446.9" cy="170.1" r="2.45"/><circle cx="468" cy="216.2" r="2.45"/><circle cx="461.8" cy="54.7" r="2.45"/><circle cx="484.6" cy="54.7" r="2.45"/><circle cx="456.1" cy="239.7" r="2.45"/><circle cx="488" cy="252.4" r="2.45"/><circle cx="479.1" cy="124.8" r="2.45"/><circle cx="459" cy="108.4" r="2.45"/><circle cx="464.3" cy="108.4" r="2.45"/><circle cx="452.5" cy="203" r="2.45"/><circle cx="437.1" cy="116.5" r="2.45"/><circle cx="433.9" cy="124.8" r="2.45"/><circle cx="433" cy="315.9" r="2.45"/><circle cx="433.7" cy="120.7" r="2.45"/><circle cx="462.5" cy="157.6" r="2.45"/><circle cx="448.1" cy="252.4" r="2.45"/><circle cx="433.1" cy="235.9" r="2.45"/><circle cx="460.2" cy="239.7" r="2.45"/><circle cx="469.9" cy="75.6" r="2.45"/><circle cx="488.6" cy="301.7" r="2.45"/><circle cx="470.6" cy="183" r="2.45"/><circle cx="457.7" cy="183" r="2.45"/><circle cx="454.4" cy="301.7" r="2.45"/><circle cx="481.7" cy="256.1" r="2.45"/><circle cx="488.4" cy="190.5" r="2.45"/><circle cx="487" cy="235.9" r="2.45"/><circle cx="447.4" cy="92" r="2.45"/><circle cx="441.2" cy="266.1" r="2.45"/><circle cx="473.8" cy="75.6" r="2.45"/><circle cx="471.4" cy="301.7" r="2.45"/><circle cx="481.1" cy="157.6" r="2.45"/><circle cx="440.1" cy="66.6" r="2.45"/><circle cx="458.8" cy="256.1" r="2.45"/><circle cx="463.2" cy="104.2" r="2.45"/><circle cx="461.4" cy="66.6" r="2.45"/><circle cx="443" cy="153.6" r="2.45"/><circle cx="438.6" cy="99.8" r="2.45"/><circle cx="486.8" cy="83.2" r="2.45"/><circle cx="484.8" cy="199.6" r="2.45"/><circle cx="446.8" cy="216.2" r="2.45"/><circle cx="440.7" cy="108.4" r="2.45"/><circle cx="459.5" cy="149.7" r="2.45"/><circle cx="463.4" cy="219.4" r="2.45"/><circle cx="438.6" cy="166.3" r="2.45"/><circle cx="448.2" cy="133.1" r="2.45"/><circle cx="461.4" cy="190.5" r="2.45"/><circle cx="462" cy="108.4" r="2.45"/><circle cx="443.6" cy="99.8" r="2.45"/><circle cx="485.6" cy="92" r="2.45"/><circle cx="474.5" cy="315.9" r="2.45"/><circle cx="453.7" cy="239.7" r="2.45"/><circle cx="456.2" cy="124.8" r="2.45"/><circle cx="488" cy="174.1" r="2.45"/><circle cx="457.8" cy="157.6" r="2.45"/><circle cx="456.2" cy="183" r="2.45"/><circle cx="452" cy="249.5" r="2.45"/><circle cx="459.5" cy="157.6" r="2.45"/><circle cx="477.1" cy="219.4" r="2.45"/><circle cx="454.4" cy="199.6" r="2.45"/><circle cx="447.7" cy="75.6" r="2.45"/><circle cx="482" cy="99.8" r="2.45"/><circle cx="466.5" cy="199.6" r="2.45"/><circle cx="445.6" cy="206.9" r="2.45"/><circle cx="452.4" cy="199.6" r="2.45"/><circle cx="471.9" cy="108.4" r="2.45"/><circle cx="476.1" cy="249.5" r="2.45"/><circle cx="450.9" cy="252.4" r="2.45"/><circle cx="480.4" cy="108.4" r="2.45"/><circle cx="477.9" cy="219.4" r="2.45"/><circle cx="457.4" cy="174.1" r="2.45"/><circle cx="475.3" cy="199.6" r="2.45"/><circle cx="456.5" cy="92" r="2.45"/><circle cx="473.2" cy="235.9" r="2.45"/><circle cx="473.2" cy="153.6" r="2.45"/><circle cx="454.3" cy="99.8" r="2.45"/><circle cx="441.9" cy="71.3" r="2.45"/><circle cx="475.5" cy="66.6" r="2.45"/><circle cx="465.4" cy="153.6" r="2.45"/><circle cx="483.8" cy="272.5" r="2.45"/><circle cx="455.7" cy="153.6" r="2.45"/><circle cx="449.1" cy="153.6" r="2.45"/><circle cx="443.9" cy="223.3" r="2.45"/><circle cx="438.9" cy="99.8" r="2.45"/><circle cx="438.3" cy="153.6" r="2.45"/><circle cx="472.8" cy="83.2" r="2.45"/><circle cx="445.1" cy="153.6" r="2.45"/><circle cx="436.3" cy="252.4" r="2.45"/><circle cx="473.3" cy="256.1" r="2.45"/><circle cx="472.8" cy="92" r="2.45"/><circle cx="441.8" cy="203" r="2.45"/><circle cx="436" cy="153.6" r="2.45"/><circle cx="482.1" cy="75.6" r="2.45"/><circle cx="451.8" cy="235.9" r="2.45"/><circle cx="482.5" cy="249.5" r="2.45"/><circle cx="433" cy="124.8" r="2.45"/><circle cx="451.2" cy="99.8" r="2.45"/><circle cx="434.5" cy="87.8" r="2.45"/><circle cx="441.9" cy="99.8" r="2.45"/><circle cx="440.5" cy="223.3" r="2.45"/><circle cx="446.9" cy="239.7" r="2.45"/><circle cx="473" cy="199.6" r="2.45"/><circle cx="480" cy="99.8" r="2.45"/><circle cx="453.5" cy="232.8" r="2.45"/><circle cx="455.3" cy="266.1" r="2.45"/><circle cx="446.2" cy="174.1" r="2.45"/><circle cx="478.9" cy="54.7" r="2.45"/><circle cx="466.3" cy="137.1" r="2.45"/><circle cx="451.7" cy="183" r="2.45"/><circle cx="443.3" cy="232.8" r="2.45"/><circle cx="485.6" cy="83.2" r="2.45"/><circle cx="451" cy="266.1" r="2.45"/><circle cx="481.4" cy="256.1" r="2.45"/><circle cx="456.4" cy="120.7" r="2.45"/><circle cx="483.4" cy="232.8" r="2.45"/><circle cx="453" cy="272.5" r="2.45"/><circle cx="464" cy="174.1" r="2.45"/><circle cx="435" cy="71.3" r="2.45"/><circle cx="478.4" cy="108.4" r="2.45"/><circle cx="483.9" cy="183" r="2.45"/><circle cx="483.1" cy="206.9" r="2.45"/><circle cx="433.1" cy="190.5" r="2.45"/><circle cx="461.8" cy="183" r="2.45"/><circle cx="465.3" cy="249.5" r="2.45"/><circle cx="478.6" cy="249.5" r="2.45"/><circle cx="486" cy="206.9" r="2.45"/><circle cx="482.2" cy="170.1" r="2.45"/><circle cx="488.5" cy="66.6" r="2.45"/><circle cx="446.3" cy="232.8" r="2.45"/><circle cx="449.6" cy="249.5" r="2.45"/><circle cx="472.1" cy="166.3" r="2.45"/><circle cx="474.1" cy="183" r="2.45"/><circle cx="444.4" cy="92" r="2.45"/><circle cx="441.2" cy="285.3" r="2.45"/><circle cx="472.6" cy="322.1" r="2.45"/><circle cx="438.5" cy="199.6" r="2.45"/><circle cx="449.7" cy="252.4" r="2.45"/><circle cx="476.1" cy="186.5" r="2.45"/><circle cx="488.5" cy="137.1" r="2.45"/><circle cx="434.6" cy="157.6" r="2.45"/><circle cx="443.4" cy="239.7" r="2.45"/><circle cx="476.8" cy="141.2" r="2.45"/><circle cx="437.7" cy="239.7" r="2.45"/><circle cx="461.1" cy="71.3" r="2.45"/><circle cx="480.3" cy="183" r="2.45"/><circle cx="447.2" cy="256.1" r="2.45"/><circle cx="470.8" cy="104.2" r="2.45"/><circle cx="482.8" cy="190.5" r="2.45"/><circle cx="442.4" cy="92" r="2.45"/><circle cx="436.6" cy="266.1" r="2.45"/><circle cx="467.9" cy="266.1" r="2.45"/><circle cx="476.4" cy="83.2" r="2.45"/><circle cx="475.5" cy="108.4" r="2.45"/><circle cx="470.6" cy="249.5" r="2.45"/><circle cx="456.4" cy="166.3" r="2.45"/><circle cx="469" cy="141.2" r="2.45"/><circle cx="485.8" cy="186.5" r="2.45"/><circle cx="438.7" cy="75.6" r="2.45"/><circle cx="456.3" cy="116.5" r="2.45"/><circle cx="454.5" cy="174.1" r="2.45"/><circle cx="440.5" cy="166.3" r="2.45"/><circle cx="449.7" cy="99.8" r="2.45"/><circle cx="473.8" cy="66.6" r="2.45"/><circle cx="479.7" cy="249.5" r="2.45"/><circle cx="481" cy="174.1" r="2.45"/><circle cx="454.7" cy="183" r="2.45"/><circle cx="478.7" cy="190.5" r="2.45"/><circle cx="434.9" cy="141.2" r="2.45"/><circle cx="466.8" cy="206.9" r="2.45"/><circle cx="478.6" cy="137.1" r="2.45"/><circle cx="433.2" cy="157.6" r="2.45"/><circle cx="472.2" cy="256.1" r="2.45"/><circle cx="488.4" cy="266.1" r="2.45"/><circle cx="486.7" cy="137.1" r="2.45"/><circle cx="457.4" cy="235.9" r="2.45"/><circle cx="447.9" cy="203" r="2.45"/><circle cx="465" cy="120.7" r="2.45"/><circle cx="477.8" cy="203" r="2.45"/><circle cx="472" cy="133.1" r="2.45"/><circle cx="443.1" cy="272.5" r="2.45"/><circle cx="438.1" cy="256.1" r="2.45"/><circle cx="447.7" cy="83.2" r="2.45"/><circle cx="460.9" cy="71.3" r="2.45"/><circle cx="446.7" cy="54.7" r="2.45"/><circle cx="436.6" cy="87.8" r="2.45"/><circle cx="462.1" cy="199.6" r="2.45"/><circle cx="452.5" cy="252.4" r="2.45"/><circle cx="460.8" cy="99.8" r="2.45"/><circle cx="448.7" cy="92" r="2.45"/><circle cx="460" cy="124.8" r="2.45"/><circle cx="434.6" cy="216.2" r="2.45"/><circle cx="450.3" cy="124.8" r="2.45"/><circle cx="440.9" cy="141.2" r="2.45"/><circle cx="465" cy="104.2" r="2.45"/><circle cx="440.5" cy="282.7" r="2.45"/><circle cx="433.5" cy="299.4" r="2.45"/><circle cx="460.5" cy="232.8" r="2.45"/><circle cx="455.4" cy="133.1" r="2.45"/><circle cx="478.5" cy="87.8" r="2.45"/><circle cx="474.8" cy="133.1" r="2.45"/><circle cx="467.1" cy="322.1" r="2.45"/><circle cx="482" cy="83.2" r="2.45"/><circle cx="476.9" cy="83.2" r="2.45"/><circle cx="468" cy="149.7" r="2.45"/><circle cx="438.3" cy="272.5" r="2.45"/><circle cx="446.6" cy="203" r="2.45"/><circle cx="480.9" cy="124.8" r="2.45"/><circle cx="479" cy="190.5" r="2.45"/><circle cx="471.1" cy="216.2" r="2.45"/><circle cx="475.5" cy="249.5" r="2.45"/><circle cx="463.9" cy="116.5" r="2.45"/><circle cx="449.4" cy="235.9" r="2.45"/><circle cx="439.2" cy="239.7" r="2.45"/><circle cx="442.9" cy="66.6" r="2.45"/><circle cx="448.9" cy="170.1" r="2.45"/><circle cx="453.1" cy="299.4" r="2.45"/><circle cx="476.5" cy="75.6" r="2.45"/><circle cx="479.2" cy="232.8" r="2.45"/><circle cx="475.6" cy="75.6" r="2.45"/><circle cx="438.8" cy="141.2" r="2.45"/><circle cx="473.8" cy="66.6" r="2.45"/><circle cx="446.7" cy="99.8" r="2.45"/><circle cx="483.2" cy="99.8" r="2.45"/><circle cx="453.5" cy="120.7" r="2.45"/><circle cx="443.1" cy="104.2" r="2.45"/><circle cx="452.3" cy="92" r="2.45"/><circle cx="441.3" cy="272.5" r="2.45"/><circle cx="439.3" cy="71.3" r="2.45"/><circle cx="455.3" cy="75.6" r="2.45"/><circle cx="479.7" cy="116.5" r="2.45"/><circle cx="463.8" cy="249.5" r="2.45"/><circle cx="449.6" cy="266.1" r="2.45"/><circle cx="476.3" cy="266.1" r="2.45"/><circle cx="436.7" cy="288.9" r="2.45"/><circle cx="476.1" cy="252.4" r="2.45"/><circle cx="482.2" cy="288.9" r="2.45"/><circle cx="461.1" cy="282.7" r="2.45"/><circle cx="471.6" cy="83.2" r="2.45"/><circle cx="482.2" cy="99.8" r="2.45"/><circle cx="479.2" cy="54.7" r="2.45"/><circle cx="484.7" cy="141.2" r="2.45"/><circle cx="468" cy="104.2" r="2.45"/><circle cx="483.4" cy="54.7" r="2.45"/><circle cx="454.4" cy="183" r="2.45"/><circle cx="468.3" cy="252.4" r="2.45"/><circle cx="471.8" cy="92" r="2.45"/><circle cx="470.7" cy="133.1" r="2.45"/><circle cx="442.4" cy="199.6" r="2.45"/><circle cx="480.6" cy="216.2" r="2.45"/><circle cx="441.4" cy="124.8" r="2.45"/><circle cx="468.9" cy="124.8" r="2.45"/><circle cx="441.6" cy="203" r="2.45"/><circle cx="479.2" cy="108.4" r="2.45"/><circle cx="455.5" cy="256.1" r="2.45"/><circle cx="441.8" cy="141.2" r="2.45"/><circle cx="486.9" cy="157.6" r="2.45"/><circle cx="477.9" cy="199.6" r="2.45"/><circle cx="475.7" cy="256.1" r="2.45"/><circle cx="451.1" cy="99.8" r="2.45"/><circle cx="481" cy="92" r="2.45"/><circle cx="435.2" cy="87.8" r="2.45"/><circle cx="466.8" cy="183" r="2.45"/><circle cx="479" cy="235.9" r="2.45"/><circle cx="471.8" cy="87.8" r="2.45"/><circle cx="475.9" cy="252.4" r="2.45"/><circle cx="455.9" cy="92" r="2.45"/><circle cx="462.5" cy="190.5" r="2.45"/><circle cx="457.6" cy="235.9" r="2.45"/><circle cx="464.5" cy="232.8" r="2.45"/><circle cx="440.3" cy="256.1" r="2.45"/><circle cx="481.1" cy="266.1" r="2.45"/><circle cx="472.9" cy="124.8" r="2.45"/><circle cx="434" cy="282.7" r="2.45"/><circle cx="447" cy="266.1" r="2.45"/><circle cx="465.6" cy="124.8" r="2.45"/><circle cx="466.4" cy="124.8" r="2.45"/><circle cx="434.4" cy="232.8" r="2.45"/><circle cx="448.6" cy="223.3" r="2.45"/><circle cx="461.3" cy="288.9" r="2.45"/><circle cx="444.4" cy="133.1" r="2.45"/><circle cx="479.4" cy="133.1" r="2.45"/><circle cx="433.4" cy="272.5" r="2.45"/><circle cx="478.8" cy="199.6" r="2.45"/><circle cx="443.5" cy="235.9" r="2.45"/><circle cx="475.1" cy="256.1" r="2.45"/><circle cx="452.1" cy="186.5" r="2.45"/><circle cx="448" cy="206.9" r="2.45"/><circle cx="455.2" cy="108.4" r="2.45"/><circle cx="444.4" cy="99.8" r="2.45"/><circle cx="463.9" cy="266.1" r="2.45"/><circle cx="447.7" cy="83.2" r="2.45"/><circle cx="447.1" cy="216.2" r="2.45"/><circle cx="460.5" cy="256.1" r="2.45"/><circle cx="453.4" cy="124.8" r="2.45"/><circle cx="488.2" cy="249.5" r="2.45"/><circle cx="454.4" cy="203" r="2.45"/><circle cx="469.7" cy="66.6" r="2.45"/><circle cx="478.4" cy="66.6" r="2.45"/><circle cx="486.3" cy="66.6" r="2.45"/><circle cx="447.2" cy="141.2" r="2.45"/><circle cx="482.5" cy="83.2" r="2.45"/><circle cx="435.3" cy="216.2" r="2.45"/><circle cx="469.6" cy="206.9" r="2.45"/><circle cx="439.1" cy="190.5" r="2.45"/><circle cx="473.8" cy="153.6" r="2.45"/><circle cx="433.1" cy="108.4" r="2.45"/><circle cx="445.4" cy="75.6" r="2.45"/><circle cx="476" cy="92" r="2.45"/><circle cx="449.2" cy="183" r="2.45"/><circle cx="460.3" cy="92" r="2.45"/><circle cx="438.4" cy="199.6" r="2.45"/><circle cx="450.2" cy="203" r="2.45"/><circle cx="435.3" cy="249.5" r="2.45"/><circle cx="478.4" cy="66.6" r="2.45"/><circle cx="446.8" cy="219.4" r="2.45"/><circle cx="444.1" cy="256.1" r="2.45"/><circle cx="478.4" cy="124.8" r="2.45"/><circle cx="446" cy="282.7" r="2.45"/><circle cx="440.7" cy="153.6" r="2.45"/><circle cx="477.6" cy="249.5" r="2.45"/><circle cx="436.2" cy="266.1" r="2.45"/><circle cx="470.2" cy="190.5" r="2.45"/><circle cx="476.6" cy="183" r="2.45"/><circle cx="485.9" cy="199.6" r="2.45"/><circle cx="473.2" cy="249.5" r="2.45"/><circle cx="465.3" cy="75.6" r="2.45"/><circle cx="454.1" cy="249.5" r="2.45"/><circle cx="474.7" cy="256.1" r="2.45"/><circle cx="464.3" cy="235.9" r="2.45"/><circle cx="464.8" cy="133.1" r="2.45"/><circle cx="451.6" cy="157.6" r="2.45"/><circle cx="436.3" cy="124.8" r="2.45"/><circle cx="457.6" cy="75.6" r="2.45"/><circle cx="440.7" cy="170.1" r="2.45"/><circle cx="452.6" cy="174.1" r="2.45"/><circle cx="479.7" cy="216.2" r="2.45"/><circle cx="483.4" cy="108.4" r="2.45"/><circle cx="459" cy="249.5" r="2.45"/><circle cx="465.1" cy="166.3" r="2.45"/><circle cx="457.4" cy="249.5" r="2.45"/><circle cx="472.6" cy="83.2" r="2.45"/><circle cx="465.2" cy="272.5" r="2.45"/><circle cx="462.1" cy="166.3" r="2.45"/><circle cx="478.5" cy="157.6" r="2.45"/><circle cx="451.3" cy="249.5" r="2.45"/><circle cx="474.2" cy="99.8" r="2.45"/><circle cx="456.3" cy="108.4" r="2.45"/><circle cx="480.4" cy="92" r="2.45"/><circle cx="471.8" cy="120.7" r="2.45"/><circle cx="441" cy="116.5" r="2.45"/><circle cx="479.9" cy="305.3" r="2.45"/><circle cx="435" cy="282.7" r="2.45"/><circle cx="487.3" cy="235.9" r="2.45"/><circle cx="479" cy="249.5" r="2.45"/><circle cx="482.2" cy="116.5" r="2.45"/><circle cx="435" cy="137.1" r="2.45"/><circle cx="471.4" cy="190.5" r="2.45"/><circle cx="450.6" cy="116.5" r="2.45"/><circle cx="486.9" cy="288.9" r="2.45"/><circle cx="458.4" cy="120.7" r="2.45"/><circle cx="450.5" cy="199.6" r="2.45"/><circle cx="470.8" cy="256.1" r="2.45"/><circle cx="475.1" cy="66.6" r="2.45"/><circle cx="480.1" cy="216.2" r="2.45"/><circle cx="469.7" cy="216.2" r="2.45"/><circle cx="453.2" cy="149.7" r="2.45"/><circle cx="479.3" cy="232.8" r="2.45"/><circle cx="470.7" cy="141.2" r="2.45"/><circle cx="449.6" cy="239.7" r="2.45"/><circle cx="455.7" cy="239.7" r="2.45"/><circle cx="482.6" cy="268.8" r="2.45"/><circle cx="479.7" cy="232.8" r="2.45"/><circle cx="451.6" cy="256.1" r="2.45"/><circle cx="458.2" cy="219.4" r="2.45"/><circle cx="480.6" cy="199.6" r="2.45"/><circle cx="443" cy="266.1" r="2.45"/><circle cx="467.1" cy="199.6" r="2.45"/><circle cx="447.6" cy="75.6" r="2.45"/><circle cx="478.3" cy="256.1" r="2.45"/><circle cx="465" cy="183" r="2.45"/><circle cx="449.5" cy="206.9" r="2.45"/><circle cx="435.3" cy="249.5" r="2.45"/><circle cx="457.2" cy="216.2" r="2.45"/><circle cx="487" cy="170.1" r="2.45"/><circle cx="479.7" cy="149.7" r="2.45"/><circle cx="474.8" cy="268.8" r="2.45"/><circle cx="462.9" cy="157.6" r="2.45"/><circle cx="437.8" cy="133.1" r="2.45"/><circle cx="435.2" cy="232.8" r="2.45"/><circle cx="468.4" cy="190.5" r="2.45"/><circle cx="433.4" cy="232.8" r="2.45"/><circle cx="437.9" cy="256.1" r="2.45"/><circle cx="465.4" cy="66.6" r="2.45"/><circle cx="486.6" cy="256.1" r="2.45"/><circle cx="487.9" cy="249.5" r="2.45"/><circle cx="464.7" cy="268.8" r="2.45"/><circle cx="435.9" cy="120.7" r="2.45"/><circle cx="485.4" cy="166.3" r="2.45"/><circle cx="457.8" cy="66.6" r="2.45"/><circle cx="480.6" cy="124.8" r="2.45"/><circle cx="485.3" cy="266.1" r="2.45"/><circle cx="433.4" cy="256.1" r="2.45"/><circle cx="450.1" cy="87.8" r="2.45"/><circle cx="475.9" cy="199.6" r="2.45"/><circle cx="460.2" cy="66.6" r="2.45"/><circle cx="445.1" cy="108.4" r="2.45"/><circle cx="463.6" cy="66.6" r="2.45"/><circle cx="452.4" cy="216.2" r="2.45"/><circle cx="437.6" cy="137.1" r="2.45"/><circle cx="436.3" cy="157.6" r="2.45"/><circle cx="446.5" cy="174.1" r="2.45"/><circle cx="447.6" cy="71.3" r="2.45"/><circle cx="461.5" cy="190.5" r="2.45"/><circle cx="467.9" cy="66.6" r="2.45"/><circle cx="465.4" cy="199.6" r="2.45"/><circle cx="452.3" cy="133.1" r="2.45"/><circle cx="477.9" cy="133.1" r="2.45"/><circle cx="450.7" cy="120.7" r="2.45"/><circle cx="439.8" cy="174.1" r="2.45"/><circle cx="441.6" cy="190.5" r="2.45"/><circle cx="444.1" cy="133.1" r="2.45"/><circle cx="479.9" cy="190.5" r="2.45"/><circle cx="451.3" cy="116.5" r="2.45"/><circle cx="468.2" cy="99.8" r="2.45"/><circle cx="487.1" cy="235.9" r="2.45"/><circle cx="439.7" cy="249.5" r="2.45"/><circle cx="448.5" cy="166.3" r="2.45"/><circle cx="446.4" cy="174.1" r="2.45"/><circle cx="473.3" cy="87.8" r="2.45"/><circle cx="461.8" cy="186.5" r="2.45"/><circle cx="437.5" cy="66.6" r="2.45"/><circle cx="457.6" cy="235.9" r="2.45"/><circle cx="471.9" cy="216.2" r="2.45"/><circle cx="449.7" cy="108.4" r="2.45"/><circle cx="461.1" cy="206.9" r="2.45"/><circle cx="467.3" cy="183" r="2.45"/><circle cx="469.3" cy="75.6" r="2.45"/><circle cx="435.9" cy="219.4" r="2.45"/><circle cx="478.1" cy="108.4" r="2.45"/><circle cx="434.1" cy="157.6" r="2.45"/><circle cx="436.2" cy="124.8" r="2.45"/><circle cx="444.7" cy="108.4" r="2.45"/><circle cx="476.7" cy="183" r="2.45"/><circle cx="450.1" cy="124.8" r="2.45"/><circle cx="464.7" cy="87.8" r="2.45"/><circle cx="466.7" cy="124.8" r="2.45"/><circle cx="479.3" cy="157.6" r="2.45"/><circle cx="438.9" cy="199.6" r="2.45"/><circle cx="455.9" cy="124.8" r="2.45"/><circle cx="476" cy="256.1" r="2.45"/><circle cx="485.2" cy="75.6" r="2.45"/><circle cx="440.1" cy="108.4" r="2.45"/><circle cx="474" cy="272.5" r="2.45"/><circle cx="459.3" cy="66.6" r="2.45"/><circle cx="484.3" cy="252.4" r="2.45"/><circle cx="482.2" cy="272.5" r="2.45"/><circle cx="483" cy="116.5" r="2.45"/><circle cx="469" cy="239.7" r="2.45"/><circle cx="436" cy="199.6" r="2.45"/><circle cx="439" cy="174.1" r="2.45"/><circle cx="446.2" cy="223.3" r="2.45"/><circle cx="464.5" cy="124.8" r="2.45"/><circle cx="472.9" cy="216.2" r="2.45"/><circle cx="468.7" cy="120.7" r="2.45"/><circle cx="440.6" cy="153.6" r="2.45"/><circle cx="479.1" cy="116.5" r="2.45"/><circle cx="473" cy="116.5" r="2.45"/><circle cx="468.5" cy="216.2" r="2.45"/><circle cx="472.9" cy="104.2" r="2.45"/><circle cx="458.1" cy="83.2" r="2.45"/><circle cx="471.4" cy="190.5" r="2.45"/><circle cx="450.8" cy="232.8" r="2.45"/><circle cx="454.9" cy="322.1" r="2.45"/><circle cx="470" cy="203" r="2.45"/><circle cx="468.3" cy="252.4" r="2.45"/><circle cx="473.9" cy="256.1" r="2.45"/><circle cx="441.6" cy="149.7" r="2.45"/><circle cx="443.8" cy="99.8" r="2.45"/><circle cx="476.1" cy="99.8" r="2.45"/><circle cx="473.4" cy="153.6" r="2.45"/><circle cx="457.1" cy="266.1" r="2.45"/><circle cx="472.4" cy="183" r="2.45"/><circle cx="453.2" cy="252.4" r="2.45"/><circle cx="474.7" cy="83.2" r="2.45"/><circle cx="482.9" cy="153.6" r="2.45"/><circle cx="449.9" cy="190.5" r="2.45"/><circle cx="458.1" cy="183" r="2.45"/><circle cx="439.9" cy="108.4" r="2.45"/><circle cx="485.6" cy="266.1" r="2.45"/><circle cx="445" cy="249.5" r="2.45"/><circle cx="446.1" cy="249.5" r="2.45"/><circle cx="476.1" cy="120.7" r="2.45"/><circle cx="460.9" cy="99.8" r="2.45"/><circle cx="483.3" cy="199.6" r="2.45"/><circle cx="481.3" cy="149.7" r="2.45"/><circle cx="463.7" cy="252.4" r="2.45"/><circle cx="479.3" cy="153.6" r="2.45"/><circle cx="462.5" cy="116.5" r="2.45"/><circle cx="467.8" cy="116.5" r="2.45"/><circle cx="487.5" cy="149.7" r="2.45"/><circle cx="453.1" cy="256.1" r="2.45"/><circle cx="441.8" cy="66.6" r="2.45"/><circle cx="466.9" cy="153.6" r="2.45"/><circle cx="483.3" cy="75.6" r="2.45"/><circle cx="447.5" cy="206.9" r="2.45"/><circle cx="438.9" cy="66.6" r="2.45"/><circle cx="464.7" cy="216.2" r="2.45"/><circle cx="460.6" cy="199.6" r="2.45"/><circle cx="455.3" cy="186.5" r="2.45"/><circle cx="481.5" cy="249.5" r="2.45"/><circle cx="438.5" cy="92" r="2.45"/><circle cx="444.4" cy="92" r="2.45"/><circle cx="444.8" cy="206.9" r="2.45"/><circle cx="439" cy="92" r="2.45"/><circle cx="443.6" cy="133.1" r="2.45"/><circle cx="436.1" cy="149.7" r="2.45"/><circle cx="453.8" cy="116.5" r="2.45"/><circle cx="454.6" cy="99.8" r="2.45"/><circle cx="456.7" cy="66.6" r="2.45"/><circle cx="464.4" cy="256.1" r="2.45"/><circle cx="470.3" cy="223.3" r="2.45"/><circle cx="457.8" cy="252.4" r="2.45"/><circle cx="453.8" cy="137.1" r="2.45"/><circle cx="486.5" cy="199.6" r="2.45"/><circle cx="453.1" cy="108.4" r="2.45"/><circle cx="443.9" cy="190.5" r="2.45"/><circle cx="488.2" cy="282.7" r="2.45"/><circle cx="453.4" cy="157.6" r="2.45"/><circle cx="481.6" cy="206.9" r="2.45"/><circle cx="468" cy="124.8" r="2.45"/><circle cx="464.3" cy="75.6" r="2.45"/><circle cx="461.5" cy="157.6" r="2.45"/><circle cx="479.9" cy="157.6" r="2.45"/><circle cx="464.6" cy="252.4" r="2.45"/><circle cx="485.8" cy="249.5" r="2.45"/><circle cx="461.6" cy="235.9" r="2.45"/><circle cx="437.3" cy="124.8" r="2.45"/><circle cx="451.6" cy="83.2" r="2.45"/><circle cx="461.1" cy="190.5" r="2.45"/><circle cx="457.6" cy="66.6" r="2.45"/><circle cx="475.2" cy="141.2" r="2.45"/><circle cx="468.7" cy="170.1" r="2.45"/><circle cx="479.9" cy="99.8" r="2.45"/><circle cx="435.7" cy="315.9" r="2.45"/><circle cx="463.8" cy="83.2" r="2.45"/><circle cx="467" cy="120.7" r="2.45"/><circle cx="487.2" cy="124.8" r="2.45"/><circle cx="447.3" cy="120.7" r="2.45"/><circle cx="437.9" cy="235.9" r="2.45"/><circle cx="451" cy="315.9" r="2.45"/><circle cx="476.5" cy="116.5" r="2.45"/><circle cx="454.3" cy="54.7" r="2.45"/><circle cx="481.1" cy="272.5" r="2.45"/><circle cx="447.1" cy="305.3" r="2.45"/><circle cx="470.9" cy="252.4" r="2.45"/><circle cx="476.6" cy="305.3" r="2.45"/><circle cx="464.3" cy="54.7" r="2.45"/><circle cx="457.4" cy="66.6" r="2.45"/><circle cx="477.1" cy="116.5" r="2.45"/><circle cx="442.5" cy="249.5" r="2.45"/><circle cx="443.5" cy="232.8" r="2.45"/><circle cx="458.8" cy="99.8" r="2.45"/><circle cx="469" cy="190.5" r="2.45"/><circle cx="481.5" cy="149.7" r="2.45"/><circle cx="439.3" cy="216.2" r="2.45"/><circle cx="458.5" cy="249.5" r="2.45"/><circle cx="483.8" cy="216.2" r="2.45"/><circle cx="455.2" cy="99.8" r="2.45"/><circle cx="463.9" cy="183" r="2.45"/><circle cx="438.4" cy="186.5" r="2.45"/><circle cx="460.7" cy="190.5" r="2.45"/><circle cx="474.5" cy="83.2" r="2.45"/><circle cx="477.3" cy="99.8" r="2.45"/><circle cx="466.1" cy="186.5" r="2.45"/><circle cx="457.2" cy="99.8" r="2.45"/><circle cx="465.3" cy="239.7" r="2.45"/><circle cx="487.5" cy="153.6" r="2.45"/><circle cx="438.3" cy="149.7" r="2.45"/><circle cx="435.5" cy="186.5" r="2.45"/><circle cx="466.1" cy="157.6" r="2.45"/><circle cx="434.1" cy="75.6" r="2.45"/><circle cx="484.7" cy="108.4" r="2.45"/><circle cx="481" cy="239.7" r="2.45"/><circle cx="452.5" cy="223.3" r="2.45"/><circle cx="437.6" cy="133.1" r="2.45"/><circle cx="447.3" cy="256.1" r="2.45"/><circle cx="452.7" cy="108.4" r="2.45"/><circle cx="465.5" cy="252.4" r="2.45"/><circle cx="483.3" cy="266.1" r="2.45"/><circle cx="476.8" cy="137.1" r="2.45"/><circle cx="452.9" cy="186.5" r="2.45"/><circle cx="433.3" cy="252.4" r="2.45"/><circle cx="433.6" cy="83.2" r="2.45"/><circle cx="443.2" cy="183" r="2.45"/><circle cx="458.2" cy="272.5" r="2.45"/><circle cx="446" cy="133.1" r="2.45"/><circle cx="449.4" cy="232.8" r="2.45"/><circle cx="474.3" cy="116.5" r="2.45"/><circle cx="454.6" cy="166.3" r="2.45"/><circle cx="456.9" cy="66.6" r="2.45"/><circle cx="469" cy="99.8" r="2.45"/><circle cx="485.8" cy="108.4" r="2.45"/><circle cx="435.2" cy="66.6" r="2.45"/><circle cx="445" cy="268.8" r="2.45"/><circle cx="466.9" cy="116.5" r="2.45"/><circle cx="468" cy="104.2" r="2.45"/><circle cx="461.9" cy="104.2" r="2.45"/><circle cx="452.5" cy="108.4" r="2.45"/><circle cx="466.1" cy="170.1" r="2.45"/><circle cx="437.8" cy="124.8" r="2.45"/><circle cx="486.7" cy="124.8" r="2.45"/><circle cx="474.1" cy="266.1" r="2.45"/><circle cx="454.4" cy="206.9" r="2.45"/><circle cx="474.8" cy="157.6" r="2.45"/><circle cx="443" cy="216.2" r="2.45"/><circle cx="444.2" cy="153.6" r="2.45"/><circle cx="479.8" cy="174.1" r="2.45"/><circle cx="456.9" cy="282.7" r="2.45"/><circle cx="476.1" cy="206.9" r="2.45"/><circle cx="445.5" cy="174.1" r="2.45"/><circle cx="478.8" cy="268.8" r="2.45"/><circle cx="488.2" cy="75.6" r="2.45"/><circle cx="453.9" cy="305.3" r="2.45"/><circle cx="446.9" cy="232.8" r="2.45"/><circle cx="459.5" cy="149.7" r="2.45"/><circle cx="438.4" cy="92" r="2.45"/><circle cx="435.5" cy="216.2" r="2.45"/><circle cx="485.5" cy="54.7" r="2.45"/><circle cx="438.5" cy="104.2" r="2.45"/><circle cx="487.6" cy="124.8" r="2.45"/><circle cx="437.2" cy="87.8" r="2.45"/><circle cx="475.5" cy="252.4" r="2.45"/><circle cx="457.1" cy="170.1" r="2.45"/><circle cx="434.2" cy="66.6" r="2.45"/><circle cx="465.6" cy="183" r="2.45"/><circle cx="438.2" cy="75.6" r="2.45"/><circle cx="467.8" cy="186.5" r="2.45"/><circle cx="456.4" cy="235.9" r="2.45"/><circle cx="488.5" cy="190.5" r="2.45"/><circle cx="451.9" cy="256.1" r="2.45"/><circle cx="472.1" cy="219.4" r="2.45"/><circle cx="460.3" cy="116.5" r="2.45"/><circle cx="451.6" cy="166.3" r="2.45"/><circle cx="434.8" cy="75.6" r="2.45"/><circle cx="450.2" cy="223.3" r="2.45"/><circle cx="443" cy="133.1" r="2.45"/><circle cx="482.6" cy="87.8" r="2.45"/><circle cx="481" cy="116.5" r="2.45"/><circle cx="482.9" cy="133.1" r="2.45"/><circle cx="435.9" cy="66.6" r="2.45"/><circle cx="484.9" cy="116.5" r="2.45"/><circle cx="452.1" cy="87.8" r="2.45"/><circle cx="465.9" cy="166.3" r="2.45"/><circle cx="474.2" cy="252.4" r="2.45"/><circle cx="455.8" cy="108.4" r="2.45"/><circle cx="435.1" cy="216.2" r="2.45"/><circle cx="483.9" cy="87.8" r="2.45"/><circle cx="473.4" cy="252.4" r="2.45"/><circle cx="450.9" cy="183" r="2.45"/><circle cx="454.6" cy="104.2" r="2.45"/><circle cx="473.2" cy="249.5" r="2.45"/><circle cx="479.9" cy="149.7" r="2.45"/><circle cx="470.8" cy="239.7" r="2.45"/><circle cx="476.2" cy="108.4" r="2.45"/><circle cx="476.8" cy="183" r="2.45"/><circle cx="440" cy="54.7" r="2.45"/><circle cx="464.9" cy="166.3" r="2.45"/><circle cx="466.6" cy="249.5" r="2.45"/><circle cx="452.5" cy="141.2" r="2.45"/><circle cx="450.3" cy="75.6" r="2.45"/><circle cx="458.6" cy="124.8" r="2.45"/><circle cx="469.4" cy="104.2" r="2.45"/><circle cx="480.1" cy="249.5" r="2.45"/><circle cx="462.2" cy="116.5" r="2.45"/><circle cx="483.3" cy="141.2" r="2.45"/><circle cx="478.1" cy="170.1" r="2.45"/><circle cx="476.2" cy="249.5" r="2.45"/><circle cx="453.4" cy="92" r="2.45"/><circle cx="443.5" cy="99.8" r="2.45"/><circle cx="468.9" cy="124.8" r="2.45"/><circle cx="473.6" cy="124.8" r="2.45"/><circle cx="439.8" cy="206.9" r="2.45"/><circle cx="449.8" cy="199.6" r="2.45"/><circle cx="444.1" cy="137.1" r="2.45"/><circle cx="448.3" cy="256.1" r="2.45"/><circle cx="463.2" cy="206.9" r="2.45"/><circle cx="483.7" cy="137.1" r="2.45"/><circle cx="460.9" cy="256.1" r="2.45"/><circle cx="442.4" cy="99.8" r="2.45"/><circle cx="482.6" cy="92" r="2.45"/><circle cx="444.7" cy="256.1" r="2.45"/><circle cx="474.4" cy="83.2" r="2.45"/><circle cx="466.9" cy="239.7" r="2.45"/><circle cx="476.6" cy="83.2" r="2.45"/><circle cx="481.7" cy="249.5" r="2.45"/><circle cx="440.3" cy="75.6" r="2.45"/><circle cx="486.3" cy="252.4" r="2.45"/><circle cx="474.1" cy="285.3" r="2.45"/><circle cx="443.8" cy="235.9" r="2.45"/><circle cx="448.3" cy="216.2" r="2.45"/><circle cx="481.1" cy="256.1" r="2.45"/><circle cx="486.6" cy="183" r="2.45"/><circle cx="447.9" cy="170.1" r="2.45"/><circle cx="474.3" cy="232.8" r="2.45"/><circle cx="487.7" cy="301.7" r="2.45"/><circle cx="462.5" cy="239.7" r="2.45"/><circle cx="456.8" cy="219.4" r="2.45"/><circle cx="467.6" cy="87.8" r="2.45"/><circle cx="459.4" cy="116.5" r="2.45"/><circle cx="469" cy="170.1" r="2.45"/><circle cx="447.5" cy="137.1" r="2.45"/><circle cx="464.6" cy="206.9" r="2.45"/><circle cx="433" cy="216.2" r="2.45"/><circle cx="433.3" cy="116.5" r="2.45"/><circle cx="481.2" cy="235.9" r="2.45"/><circle cx="444.4" cy="223.3" r="2.45"/><circle cx="480.3" cy="183" r="2.45"/><circle cx="479.2" cy="249.5" r="2.45"/><circle cx="479.8" cy="235.9" r="2.45"/><circle cx="486.5" cy="116.5" r="2.45"/><circle cx="470.7" cy="322.1" r="2.45"/><circle cx="448.2" cy="66.6" r="2.45"/><circle cx="476.8" cy="120.7" r="2.45"/><circle cx="459.4" cy="249.5" r="2.45"/><circle cx="486.3" cy="141.2" r="2.45"/><circle cx="480.9" cy="166.3" r="2.45"/><circle cx="484.5" cy="149.7" r="2.45"/><circle cx="451.5" cy="223.3" r="2.45"/><circle cx="451.1" cy="83.2" r="2.45"/><circle cx="471.6" cy="116.5" r="2.45"/><circle cx="460.4" cy="157.6" r="2.45"/><circle cx="449.5" cy="272.5" r="2.45"/><circle cx="464.6" cy="120.7" r="2.45"/><circle cx="440.3" cy="216.2" r="2.45"/><circle cx="482.9" cy="124.8" r="2.45"/><circle cx="476.2" cy="116.5" r="2.45"/><circle cx="445" cy="83.2" r="2.45"/><circle cx="458.5" cy="137.1" r="2.45"/><circle cx="471.1" cy="285.3" r="2.45"/><circle cx="478.1" cy="120.7" r="2.45"/><circle cx="449.6" cy="235.9" r="2.45"/><circle cx="447.8" cy="157.6" r="2.45"/><circle cx="478" cy="249.5" r="2.45"/><circle cx="459" cy="116.5" r="2.45"/><circle cx="439.9" cy="206.9" r="2.45"/><circle cx="458" cy="199.6" r="2.45"/><circle cx="465.8" cy="133.1" r="2.45"/><circle cx="449.6" cy="116.5" r="2.45"/><circle cx="461.8" cy="186.5" r="2.45"/><circle cx="463.7" cy="232.8" r="2.45"/><circle cx="435" cy="120.7" r="2.45"/><circle cx="445.9" cy="99.8" r="2.45"/><circle cx="468.2" cy="170.1" r="2.45"/><circle cx="446.3" cy="305.3" r="2.45"/><circle cx="466.2" cy="272.5" r="2.45"/><circle cx="442.8" cy="75.6" r="2.45"/><circle cx="453.2" cy="170.1" r="2.45"/><circle cx="435.3" cy="288.9" r="2.45"/><circle cx="454.8" cy="249.5" r="2.45"/><circle cx="457.4" cy="124.8" r="2.45"/><circle cx="458.9" cy="170.1" r="2.45"/><circle cx="450.7" cy="71.3" r="2.45"/><circle cx="481.4" cy="166.3" r="2.45"/><circle cx="448.9" cy="216.2" r="2.45"/><circle cx="437.4" cy="92" r="2.45"/><circle cx="452.6" cy="285.3" r="2.45"/><circle cx="479.8" cy="116.5" r="2.45"/><circle cx="453.9" cy="124.8" r="2.45"/><circle cx="433.9" cy="166.3" r="2.45"/><circle cx="465.2" cy="133.1" r="2.45"/><circle cx="460.7" cy="266.1" r="2.45"/><circle cx="450.3" cy="206.9" r="2.45"/><circle cx="460.3" cy="174.1" r="2.45"/><circle cx="465.9" cy="141.2" r="2.45"/><circle cx="475.3" cy="266.1" r="2.45"/><circle cx="461.5" cy="174.1" r="2.45"/><circle cx="488.4" cy="272.5" r="2.45"/><circle cx="460.8" cy="206.9" r="2.45"/><circle cx="439" cy="206.9" r="2.45"/><circle cx="434.5" cy="116.5" r="2.45"/><circle cx="452.5" cy="186.5" r="2.45"/><circle cx="452.3" cy="99.8" r="2.45"/><circle cx="461.9" cy="137.1" r="2.45"/><circle cx="444.5" cy="71.3" r="2.45"/><circle cx="451.8" cy="166.3" r="2.45"/><circle cx="441" cy="183" r="2.45"/><circle cx="446.5" cy="216.2" r="2.45"/><circle cx="486.6" cy="99.8" r="2.45"/><circle cx="486.7" cy="92" r="2.45"/><circle cx="437.7" cy="206.9" r="2.45"/><circle cx="467.5" cy="54.7" r="2.45"/><circle cx="461.3" cy="252.4" r="2.45"/><circle cx="475.5" cy="256.1" r="2.45"/><circle cx="459.4" cy="124.8" r="2.45"/><circle cx="486" cy="66.6" r="2.45"/><circle cx="483.8" cy="153.6" r="2.45"/><circle cx="468.1" cy="190.5" r="2.45"/><circle cx="461.5" cy="239.7" r="2.45"/><circle cx="435.9" cy="166.3" r="2.45"/><circle cx="443" cy="120.7" r="2.45"/><circle cx="448.9" cy="149.7" r="2.45"/><circle cx="474.8" cy="133.1" r="2.45"/><circle cx="452.6" cy="183" r="2.45"/><circle cx="457.3" cy="87.8" r="2.45"/><circle cx="481.6" cy="249.5" r="2.45"/><circle cx="456.7" cy="249.5" r="2.45"/><circle cx="447.6" cy="124.8" r="2.45"/><circle cx="460.1" cy="282.7" r="2.45"/><circle cx="481.6" cy="252.4" r="2.45"/><circle cx="465.1" cy="75.6" r="2.45"/><circle cx="482.3" cy="170.1" r="2.45"/><circle cx="450.8" cy="206.9" r="2.45"/><circle cx="486.4" cy="199.6" r="2.45"/><circle cx="483.7" cy="120.7" r="2.45"/><circle cx="478" cy="124.8" r="2.45"/><circle cx="469.4" cy="116.5" r="2.45"/><circle cx="443.9" cy="116.5" r="2.45"/><circle cx="439.3" cy="149.7" r="2.45"/><circle cx="487.2" cy="301.7" r="2.45"/><circle cx="436.4" cy="199.6" r="2.45"/><circle cx="446.8" cy="170.1" r="2.45"/><circle cx="467.7" cy="75.6" r="2.45"/><circle cx="472.5" cy="141.2" r="2.45"/><circle cx="479.1" cy="108.4" r="2.45"/><circle cx="461.5" cy="219.4" r="2.45"/><circle cx="447.1" cy="133.1" r="2.45"/><circle cx="485" cy="166.3" r="2.45"/><circle cx="436.4" cy="174.1" r="2.45"/><circle cx="437" cy="249.5" r="2.45"/><circle cx="439.1" cy="272.5" r="2.45"/><circle cx="469.7" cy="108.4" r="2.45"/><circle cx="457.6" cy="203" r="2.45"/><circle cx="475.6" cy="183" r="2.45"/><circle cx="462.1" cy="256.1" r="2.45"/><circle cx="464.4" cy="232.8" r="2.45"/><circle cx="480.1" cy="83.2" r="2.45"/><circle cx="469.8" cy="99.8" r="2.45"/><circle cx="484.5" cy="54.7" r="2.45"/><circle cx="445.3" cy="54.7" r="2.45"/><circle cx="461.9" cy="170.1" r="2.45"/><circle cx="441.6" cy="137.1" r="2.45"/><circle cx="444.9" cy="288.9" r="2.45"/><circle cx="487.8" cy="99.8" r="2.45"/><circle cx="443.1" cy="190.5" r="2.45"/><circle cx="471.3" cy="235.9" r="2.45"/><circle cx="460.9" cy="249.5" r="2.45"/><circle cx="455.5" cy="166.3" r="2.45"/><circle cx="470.9" cy="120.7" r="2.45"/><circle cx="481.2" cy="137.1" r="2.45"/><circle cx="455.9" cy="190.5" r="2.45"/><circle cx="454.4" cy="124.8" r="2.45"/><circle cx="454.8" cy="108.4" r="2.45"/><circle cx="442.3" cy="223.3" r="2.45"/><circle cx="448.7" cy="124.8" r="2.45"/><circle cx="475.3" cy="223.3" r="2.45"/><circle cx="473" cy="124.8" r="2.45"/><circle cx="466.8" cy="305.3" r="2.45"/><circle cx="468.2" cy="137.1" r="2.45"/><circle cx="462" cy="99.8" r="2.45"/><circle cx="482.1" cy="282.7" r="2.45"/><circle cx="441.7" cy="249.5" r="2.45"/><circle cx="447.8" cy="199.6" r="2.45"/><circle cx="441.9" cy="104.2" r="2.45"/><circle cx="469.3" cy="232.8" r="2.45"/><circle cx="460.8" cy="285.3" r="2.45"/><circle cx="466.9" cy="174.1" r="2.45"/><circle cx="444.5" cy="206.9" r="2.45"/><circle cx="464.4" cy="141.2" r="2.45"/><circle cx="442.3" cy="149.7" r="2.45"/><circle cx="438.6" cy="99.8" r="2.45"/><circle cx="449.9" cy="252.4" r="2.45"/><circle cx="439.3" cy="223.3" r="2.45"/><circle cx="476.2" cy="256.1" r="2.45"/><circle cx="449.2" cy="116.5" r="2.45"/><circle cx="449" cy="223.3" r="2.45"/><circle cx="441.6" cy="199.6" r="2.45"/><circle cx="467.9" cy="219.4" r="2.45"/><circle cx="488.2" cy="137.1" r="2.45"/><circle cx="449.2" cy="124.8" r="2.45"/><circle cx="452.4" cy="75.6" r="2.45"/><circle cx="476.3" cy="104.2" r="2.45"/><circle cx="465.6" cy="174.1" r="2.45"/><circle cx="476.1" cy="124.8" r="2.45"/><circle cx="472.6" cy="256.1" r="2.45"/><circle cx="462.3" cy="153.6" r="2.45"/><circle cx="481.7" cy="301.7" r="2.45"/><circle cx="433.2" cy="301.7" r="2.45"/><circle cx="486.8" cy="141.2" r="2.45"/><circle cx="475" cy="141.2" r="2.45"/><circle cx="469.3" cy="299.4" r="2.45"/><circle cx="446.1" cy="83.2" r="2.45"/><circle cx="475.2" cy="54.7" r="2.45"/><circle cx="456.4" cy="190.5" r="2.45"/><circle cx="450.7" cy="301.7" r="2.45"/><circle cx="482.3" cy="120.7" r="2.45"/><circle cx="459.8" cy="54.7" r="2.45"/><circle cx="437.3" cy="256.1" r="2.45"/><circle cx="472.9" cy="141.2" r="2.45"/><circle cx="460.1" cy="186.5" r="2.45"/><circle cx="458.6" cy="235.9" r="2.45"/><circle cx="447.1" cy="124.8" r="2.45"/><circle cx="450.2" cy="206.9" r="2.45"/><circle cx="434.8" cy="203" r="2.45"/><circle cx="433.6" cy="108.4" r="2.45"/><circle cx="459.4" cy="256.1" r="2.45"/><circle cx="452.4" cy="252.4" r="2.45"/><circle cx="477.9" cy="133.1" r="2.45"/><circle cx="478.5" cy="124.8" r="2.45"/><circle cx="481" cy="216.2" r="2.45"/><circle cx="440.9" cy="256.1" r="2.45"/><circle cx="451.7" cy="256.1" r="2.45"/><circle cx="467.9" cy="232.8" r="2.45"/><circle cx="452.1" cy="137.1" r="2.45"/><circle cx="445.5" cy="239.7" r="2.45"/><circle cx="469.9" cy="216.2" r="2.45"/><circle cx="460.8" cy="183" r="2.45"/><circle cx="433.7" cy="249.5" r="2.45"/><circle cx="468.3" cy="108.4" r="2.45"/><circle cx="459.4" cy="183" r="2.45"/><circle cx="443.3" cy="153.6" r="2.45"/><circle cx="471.1" cy="186.5" r="2.45"/><circle cx="464.3" cy="223.3" r="2.45"/><circle cx="472.3" cy="232.8" r="2.45"/><circle cx="468.4" cy="266.1" r="2.45"/><circle cx="480.6" cy="108.4" r="2.45"/><circle cx="467.3" cy="75.6" r="2.45"/><circle cx="470" cy="83.2" r="2.45"/><circle cx="457.4" cy="199.6" r="2.45"/><circle cx="447.1" cy="249.5" r="2.45"/><circle cx="461.6" cy="170.1" r="2.45"/><circle cx="464.9" cy="186.5" r="2.45"/><circle cx="476.7" cy="116.5" r="2.45"/><circle cx="441.9" cy="266.1" r="2.45"/><circle cx="454.7" cy="199.6" r="2.45"/><circle cx="464.4" cy="133.1" r="2.45"/><circle cx="468" cy="149.7" r="2.45"/><circle cx="455.3" cy="92" r="2.45"/><circle cx="473.7" cy="288.9" r="2.45"/><circle cx="484.3" cy="266.1" r="2.45"/><circle cx="472.4" cy="153.6" r="2.45"/><circle cx="462.5" cy="71.3" r="2.45"/><circle cx="436.1" cy="249.5" r="2.45"/><circle cx="444" cy="216.2" r="2.45"/><circle cx="442.8" cy="288.9" r="2.45"/><circle cx="434.8" cy="92" r="2.45"/><circle cx="476.8" cy="235.9" r="2.45"/><circle cx="454.7" cy="206.9" r="2.45"/><circle cx="443.8" cy="166.3" r="2.45"/><circle cx="476.9" cy="92" r="2.45"/><circle cx="433.5" cy="186.5" r="2.45"/><circle cx="453.2" cy="124.8" r="2.45"/><circle cx="434.7" cy="282.7" r="2.45"/><circle cx="443.6" cy="203" r="2.45"/><circle cx="461.2" cy="83.2" r="2.45"/><circle cx="488.2" cy="141.2" r="2.45"/><circle cx="482.4" cy="133.1" r="2.45"/><circle cx="465.1" cy="249.5" r="2.45"/><circle cx="450.9" cy="199.6" r="2.45"/><circle cx="483.6" cy="99.8" r="2.45"/><circle cx="435.6" cy="75.6" r="2.45"/><circle cx="478.4" cy="199.6" r="2.45"/><circle cx="482.5" cy="190.5" r="2.45"/><circle cx="461.5" cy="75.6" r="2.45"/><circle cx="439.7" cy="124.8" r="2.45"/><circle cx="481.4" cy="268.8" r="2.45"/><circle cx="485.3" cy="252.4" r="2.45"/><circle cx="443.7" cy="66.6" r="2.45"/><circle cx="461.7" cy="157.6" r="2.45"/><circle cx="443.9" cy="54.7" r="2.45"/><circle cx="433" cy="75.6" r="2.45"/><circle cx="474.6" cy="219.4" r="2.45"/><circle cx="481.4" cy="124.8" r="2.45"/><circle cx="455.9" cy="216.2" r="2.45"/><circle cx="450.1" cy="252.4" r="2.45"/><circle cx="477.7" cy="249.5" r="2.45"/><circle cx="453.4" cy="252.4" r="2.45"/><circle cx="463" cy="256.1" r="2.45"/><circle cx="437.4" cy="239.7" r="2.45"/><circle cx="478.6" cy="92" r="2.45"/><circle cx="434.3" cy="92" r="2.45"/><circle cx="474" cy="249.5" r="2.45"/><circle cx="478.4" cy="166.3" r="2.45"/><circle cx="463.5" cy="301.7" r="2.45"/><circle cx="452.3" cy="92" r="2.45"/><circle cx="453.9" cy="108.4" r="2.45"/><circle cx="469.5" cy="256.1" r="2.45"/><circle cx="463.6" cy="249.5" r="2.45"/><circle cx="456.5" cy="256.1" r="2.45"/><circle cx="445.3" cy="141.2" r="2.45"/><circle cx="456.9" cy="120.7" r="2.45"/><circle cx="443.1" cy="54.7" r="2.45"/><circle cx="441.6" cy="99.8" r="2.45"/><circle cx="481.5" cy="252.4" r="2.45"/><circle cx="472.6" cy="153.6" r="2.45"/><circle cx="485.1" cy="232.8" r="2.45"/><circle cx="469.2" cy="124.8" r="2.45"/><circle cx="470.1" cy="235.9" r="2.45"/><circle cx="441.6" cy="99.8" r="2.45"/><circle cx="472.7" cy="216.2" r="2.45"/><circle cx="442.3" cy="272.5" r="2.45"/><circle cx="487.3" cy="104.2" r="2.45"/><circle cx="484.8" cy="66.6" r="2.45"/><circle cx="480" cy="83.2" r="2.45"/><circle cx="437.6" cy="124.8" r="2.45"/><circle cx="487.5" cy="190.5" r="2.45"/><circle cx="458.6" cy="266.1" r="2.45"/><circle cx="435.1" cy="235.9" r="2.45"/><circle cx="474.4" cy="75.6" r="2.45"/><circle cx="464.6" cy="252.4" r="2.45"/><circle cx="461.8" cy="166.3" r="2.45"/><circle cx="434.5" cy="239.7" r="2.45"/><circle cx="452.7" cy="108.4" r="2.45"/><circle cx="454.8" cy="108.4" r="2.45"/><circle cx="485.4" cy="104.2" r="2.45"/><circle cx="437.8" cy="186.5" r="2.45"/><circle cx="456.8" cy="256.1" r="2.45"/><circle cx="457.7" cy="75.6" r="2.45"/><circle cx="444.7" cy="87.8" r="2.45"/><circle cx="454.1" cy="183" r="2.45"/><circle cx="442.3" cy="252.4" r="2.45"/><circle cx="443" cy="239.7" r="2.45"/><circle cx="467.2" cy="256.1" r="2.45"/><circle cx="433.6" cy="199.6" r="2.45"/><circle cx="482.3" cy="239.7" r="2.45"/><circle cx="442.3" cy="141.2" r="2.45"/><circle cx="468.4" cy="66.6" r="2.45"/><circle cx="470.2" cy="116.5" r="2.45"/><circle cx="487.5" cy="92" r="2.45"/><circle cx="458.6" cy="99.8" r="2.45"/><circle cx="472.4" cy="249.5" r="2.45"/><circle cx="462.6" cy="75.6" r="2.45"/><circle cx="456.4" cy="108.4" r="2.45"/><circle cx="488.3" cy="223.3" r="2.45"/><circle cx="452.5" cy="216.2" r="2.45"/><circle cx="474.5" cy="249.5" r="2.45"/><circle cx="447.7" cy="288.9" r="2.45"/><circle cx="476.2" cy="216.2" r="2.45"/><circle cx="445.4" cy="157.6" r="2.45"/><circle cx="468.4" cy="71.3" r="2.45"/><circle cx="457.2" cy="83.2" r="2.45"/><circle cx="483" cy="54.7" r="2.45"/><circle cx="449.7" cy="83.2" r="2.45"/><circle cx="468.5" cy="108.4" r="2.45"/><circle cx="441.1" cy="166.3" r="2.45"/><circle cx="449.3" cy="174.1" r="2.45"/><circle cx="446.4" cy="223.3" r="2.45"/><circle cx="478.6" cy="108.4" r="2.45"/><circle cx="468.3" cy="87.8" r="2.45"/><circle cx="488.1" cy="252.4" r="2.45"/><circle cx="486.4" cy="174.1" r="2.45"/><circle cx="485.8" cy="137.1" r="2.45"/><circle cx="487.7" cy="116.5" r="2.45"/><circle cx="466.6" cy="99.8" r="2.45"/><circle cx="472.9" cy="282.7" r="2.45"/><circle cx="433.7" cy="108.4" r="2.45"/><circle cx="455" cy="166.3" r="2.45"/><circle cx="452.5" cy="66.6" r="2.45"/><circle cx="455.6" cy="174.1" r="2.45"/><circle cx="481.6" cy="183" r="2.45"/><circle cx="435.4" cy="256.1" r="2.45"/><circle cx="439.4" cy="305.3" r="2.45"/><circle cx="436.6" cy="153.6" r="2.45"/><circle cx="462.9" cy="249.5" r="2.45"/><circle cx="479.8" cy="83.2" r="2.45"/><circle cx="463.5" cy="174.1" r="2.45"/><circle cx="449" cy="174.1" r="2.45"/><circle cx="446" cy="116.5" r="2.45"/><circle cx="444.8" cy="249.5" r="2.45"/><circle cx="475.4" cy="92" r="2.45"/><circle cx="459.1" cy="83.2" r="2.45"/><circle cx="434.3" cy="272.5" r="2.45"/><circle cx="462.1" cy="83.2" r="2.45"/><circle cx="442.6" cy="83.2" r="2.45"/><circle cx="483.3" cy="116.5" r="2.45"/><circle cx="462.9" cy="92" r="2.45"/><circle cx="484.3" cy="120.7" r="2.45"/><circle cx="439.6" cy="157.6" r="2.45"/><circle cx="443.3" cy="203" r="2.45"/><circle cx="435.9" cy="54.7" r="2.45"/><circle cx="440.1" cy="124.8" r="2.45"/><circle cx="436.3" cy="256.1" r="2.45"/><circle cx="458.2" cy="206.9" r="2.45"/><circle cx="454.1" cy="99.8" r="2.45"/><circle cx="482.5" cy="124.8" r="2.45"/><circle cx="467.9" cy="92" r="2.45"/><circle cx="466.3" cy="223.3" r="2.45"/><circle cx="440.2" cy="206.9" r="2.45"/><circle cx="446" cy="252.4" r="2.45"/><circle cx="466.8" cy="133.1" r="2.45"/><circle cx="459.4" cy="75.6" r="2.45"/><circle cx="476.7" cy="124.8" r="2.45"/><circle cx="465.4" cy="186.5" r="2.45"/><circle cx="435.5" cy="141.2" r="2.45"/><circle cx="481.3" cy="87.8" r="2.45"/><circle cx="442.9" cy="216.2" r="2.45"/><circle cx="439.3" cy="203" r="2.45"/><circle cx="447.2" cy="141.2" r="2.45"/><circle cx="433.3" cy="83.2" r="2.45"/><circle cx="451" cy="186.5" r="2.45"/><circle cx="486.3" cy="166.3" r="2.45"/><circle cx="484" cy="66.6" r="2.45"/><circle cx="461" cy="66.6" r="2.45"/><circle cx="480.7" cy="66.6" r="2.45"/><circle cx="475.9" cy="153.6" r="2.45"/><circle cx="447.8" cy="268.8" r="2.45"/><circle cx="457.5" cy="186.5" r="2.45"/><circle cx="468.4" cy="92" r="2.45"/><circle cx="468.2" cy="252.4" r="2.45"/><circle cx="482" cy="83.2" r="2.45"/><circle cx="481.5" cy="174.1" r="2.45"/><circle cx="439" cy="232.8" r="2.45"/><circle cx="465.2" cy="249.5" r="2.45"/><circle cx="440.5" cy="252.4" r="2.45"/><circle cx="478.7" cy="183" r="2.45"/><circle cx="444.1" cy="219.4" r="2.45"/><circle cx="482.9" cy="75.6" r="2.45"/><circle cx="465.6" cy="116.5" r="2.45"/><circle cx="486.6" cy="239.7" r="2.45"/><circle cx="433.7" cy="83.2" r="2.45"/><circle cx="458.7" cy="99.8" r="2.45"/><circle cx="456.5" cy="124.8" r="2.45"/><circle cx="442.3" cy="223.3" r="2.45"/><circle cx="441.9" cy="268.8" r="2.45"/><circle cx="473.2" cy="108.4" r="2.45"/><circle cx="478.5" cy="157.6" r="2.45"/><circle cx="488.2" cy="149.7" r="2.45"/><circle cx="468" cy="124.8" r="2.45"/><circle cx="485.8" cy="249.5" r="2.45"/><circle cx="475" cy="99.8" r="2.45"/><circle cx="437.9" cy="256.1" r="2.45"/><circle cx="472.8" cy="249.5" r="2.45"/><circle cx="455.2" cy="256.1" r="2.45"/><circle cx="440.9" cy="249.5" r="2.45"/><circle cx="477" cy="99.8" r="2.45"/><circle cx="450.5" cy="315.9" r="2.45"/><circle cx="460.3" cy="54.7" r="2.45"/><circle cx="434" cy="249.5" r="2.45"/><circle cx="450.6" cy="190.5" r="2.45"/><circle cx="482.2" cy="272.5" r="2.45"/><circle cx="476.3" cy="66.6" r="2.45"/><circle cx="473.2" cy="116.5" r="2.45"/><circle cx="481.1" cy="272.5" r="2.45"/><circle cx="448.2" cy="108.4" r="2.45"/><circle cx="468" cy="232.8" r="2.45"/><circle cx="460.8" cy="232.8" r="2.45"/><circle cx="460.4" cy="116.5" r="2.45"/><circle cx="478.1" cy="157.6" r="2.45"/><circle cx="444.3" cy="92" r="2.45"/><circle cx="439.6" cy="282.7" r="2.45"/><circle cx="481.9" cy="282.7" r="2.45"/><circle cx="448.7" cy="268.8" r="2.45"/><circle cx="458.6" cy="174.1" r="2.45"/><circle cx="447.9" cy="256.1" r="2.45"/><circle cx="478.4" cy="190.5" r="2.45"/><circle cx="443.5" cy="120.7" r="2.45"/><circle cx="468.4" cy="116.5" r="2.45"/><circle cx="481.6" cy="157.6" r="2.45"/><circle cx="449.8" cy="252.4" r="2.45"/><circle cx="468.7" cy="83.2" r="2.45"/><circle cx="472.9" cy="166.3" r="2.45"/><circle cx="442.1" cy="235.9" r="2.45"/><circle cx="467" cy="305.3" r="2.45"/><circle cx="455.7" cy="288.9" r="2.45"/><circle cx="470.7" cy="124.8" r="2.45"/><circle cx="446.9" cy="157.6" r="2.45"/><circle cx="456.5" cy="116.5" r="2.45"/><circle cx="438.8" cy="75.6" r="2.45"/><circle cx="467.6" cy="170.1" r="2.45"/><circle cx="470.8" cy="170.1" r="2.45"/><circle cx="479.5" cy="203" r="2.45"/><circle cx="467.6" cy="104.2" r="2.45"/><circle cx="479.6" cy="203" r="2.45"/><circle cx="483.7" cy="87.8" r="2.45"/><circle cx="476.8" cy="124.8" r="2.45"/><circle cx="460.3" cy="66.6" r="2.45"/><circle cx="483.5" cy="83.2" r="2.45"/><circle cx="446.4" cy="266.1" r="2.45"/><circle cx="445.5" cy="206.9" r="2.45"/><circle cx="446.4" cy="124.8" r="2.45"/><circle cx="482.5" cy="149.7" r="2.45"/><circle cx="451.1" cy="99.8" r="2.45"/><circle cx="461.4" cy="315.9" r="2.45"/><circle cx="472.2" cy="92" r="2.45"/><circle cx="448.2" cy="153.6" r="2.45"/><circle cx="455.5" cy="99.8" r="2.45"/><circle cx="478.3" cy="83.2" r="2.45"/><circle cx="449.8" cy="216.2" r="2.45"/><circle cx="433.6" cy="174.1" r="2.45"/><circle cx="438.1" cy="203" r="2.45"/><circle cx="456.3" cy="301.7" r="2.45"/><circle cx="463.8" cy="116.5" r="2.45"/><circle cx="445.3" cy="199.6" r="2.45"/><circle cx="443.2" cy="92" r="2.45"/><circle cx="462.9" cy="256.1" r="2.45"/><circle cx="444.7" cy="124.8" r="2.45"/><circle cx="461.4" cy="66.6" r="2.45"/><circle cx="466.2" cy="137.1" r="2.45"/><circle cx="447.7" cy="108.4" r="2.45"/><circle cx="465.7" cy="206.9" r="2.45"/><circle cx="464.4" cy="239.7" r="2.45"/><circle cx="433" cy="92" r="2.45"/><circle cx="460.2" cy="104.2" r="2.45"/><circle cx="471.2" cy="249.5" r="2.45"/><circle cx="448.8" cy="174.1" r="2.45"/><circle cx="485.2" cy="124.8" r="2.45"/><circle cx="446.9" cy="108.4" r="2.45"/><circle cx="470.1" cy="120.7" r="2.45"/><circle cx="433.1" cy="92" r="2.45"/><circle cx="447.5" cy="219.4" r="2.45"/><circle cx="474.4" cy="183" r="2.45"/><circle cx="436.7" cy="256.1" r="2.45"/><circle cx="485" cy="120.7" r="2.45"/><circle cx="469.8" cy="239.7" r="2.45"/><circle cx="483.7" cy="186.5" r="2.45"/><circle cx="462.3" cy="108.4" r="2.45"/><circle cx="476.7" cy="232.8" r="2.45"/><circle cx="461" cy="116.5" r="2.45"/><circle cx="462.3" cy="322.1" r="2.45"/><circle cx="457.8" cy="249.5" r="2.45"/><circle cx="471.9" cy="92" r="2.45"/><circle cx="484.2" cy="282.7" r="2.45"/><circle cx="438.9" cy="92" r="2.45"/><circle cx="474.4" cy="322.1" r="2.45"/><circle cx="488.3" cy="75.6" r="2.45"/><circle cx="460.3" cy="92" r="2.45"/><circle cx="446.2" cy="141.2" r="2.45"/><circle cx="452.5" cy="216.2" r="2.45"/><circle cx="487.6" cy="282.7" r="2.45"/><circle cx="483.9" cy="219.4" r="2.45"/><circle cx="469.5" cy="108.4" r="2.45"/><circle cx="439.2" cy="249.5" r="2.45"/><circle cx="452.6" cy="203" r="2.45"/><circle cx="471.1" cy="108.4" r="2.45"/><circle cx="455.8" cy="266.1" r="2.45"/><circle cx="470.8" cy="71.3" r="2.45"/><circle cx="442.9" cy="285.3" r="2.45"/><circle cx="437.6" cy="235.9" r="2.45"/><circle cx="445.7" cy="99.8" r="2.45"/><circle cx="435.6" cy="83.2" r="2.45"/><circle cx="467.1" cy="153.6" r="2.45"/><circle cx="438.8" cy="83.2" r="2.45"/><circle cx="462.5" cy="170.1" r="2.45"/><circle cx="438.4" cy="104.2" r="2.45"/><circle cx="471.9" cy="219.4" r="2.45"/><circle cx="469.8" cy="235.9" r="2.45"/><circle cx="477.1" cy="282.7" r="2.45"/><circle cx="448.7" cy="92" r="2.45"/><circle cx="434.1" cy="249.5" r="2.45"/><circle cx="440.2" cy="174.1" r="2.45"/><circle cx="455.7" cy="104.2" r="2.45"/><circle cx="443.4" cy="256.1" r="2.45"/><circle cx="461.2" cy="116.5" r="2.45"/><circle cx="463.2" cy="232.8" r="2.45"/><circle cx="469.9" cy="206.9" r="2.45"/><circle cx="487" cy="219.4" r="2.45"/><circle cx="480.4" cy="206.9" r="2.45"/><circle cx="440.4" cy="256.1" r="2.45"/><circle cx="460.8" cy="166.3" r="2.45"/><circle cx="452.7" cy="92" r="2.45"/><circle cx="439.3" cy="239.7" r="2.45"/><circle cx="453" cy="223.3" r="2.45"/><circle cx="475.3" cy="183" r="2.45"/><circle cx="463.3" cy="219.4" r="2.45"/><circle cx="473.3" cy="54.7" r="2.45"/><circle cx="459.8" cy="252.4" r="2.45"/><circle cx="439.8" cy="166.3" r="2.45"/><circle cx="488.5" cy="186.5" r="2.45"/><circle cx="438.6" cy="249.5" r="2.45"/><circle cx="433" cy="75.6" r="2.45"/><circle cx="441" cy="249.5" r="2.45"/><circle cx="478.9" cy="92" r="2.45"/><circle cx="443.1" cy="71.3" r="2.45"/><circle cx="484.7" cy="87.8" r="2.45"/><circle cx="446.5" cy="199.6" r="2.45"/><circle cx="454.5" cy="249.5" r="2.45"/><circle cx="451.9" cy="149.7" r="2.45"/><circle cx="446.2" cy="99.8" r="2.45"/><circle cx="448.1" cy="288.9" r="2.45"/><circle cx="471" cy="268.8" r="2.45"/><circle cx="451.7" cy="252.4" r="2.45"/><circle cx="480.5" cy="104.2" r="2.45"/><circle cx="436.1" cy="149.7" r="2.45"/><circle cx="457.7" cy="223.3" r="2.45"/><circle cx="439.6" cy="137.1" r="2.45"/><circle cx="477.9" cy="153.6" r="2.45"/><circle cx="476.9" cy="190.5" r="2.45"/><circle cx="453.8" cy="186.5" r="2.45"/><circle cx="439.2" cy="239.7" r="2.45"/><circle cx="446.9" cy="104.2" r="2.45"/><circle cx="485.7" cy="219.4" r="2.45"/><circle cx="483.1" cy="256.1" r="2.45"/><circle cx="479" cy="116.5" r="2.45"/><circle cx="447.8" cy="149.7" r="2.45"/><circle cx="457.9" cy="239.7" r="2.45"/><circle cx="463.1" cy="104.2" r="2.45"/><circle cx="460.7" cy="116.5" r="2.45"/><circle cx="440.5" cy="66.6" r="2.45"/><circle cx="454.5" cy="120.7" r="2.45"/><circle cx="467.6" cy="249.5" r="2.45"/><circle cx="433.1" cy="183" r="2.45"/><circle cx="470.3" cy="141.2" r="2.45"/><circle cx="441.2" cy="75.6" r="2.45"/><circle cx="462.7" cy="170.1" r="2.45"/><circle cx="476.7" cy="54.7" r="2.45"/><circle cx="478.8" cy="120.7" r="2.45"/><circle cx="449.6" cy="223.3" r="2.45"/><circle cx="451.1" cy="256.1" r="2.45"/><circle cx="467.8" cy="256.1" r="2.45"/><circle cx="436.1" cy="256.1" r="2.45"/><circle cx="474.7" cy="219.4" r="2.45"/><circle cx="433" cy="153.6" r="2.45"/><circle cx="487.7" cy="266.1" r="2.45"/><circle cx="433.7" cy="124.8" r="2.45"/><circle cx="482.6" cy="239.7" r="2.45"/><circle cx="435.3" cy="133.1" r="2.45"/><circle cx="434.1" cy="92" r="2.45"/><circle cx="465.7" cy="256.1" r="2.45"/><circle cx="448.6" cy="219.4" r="2.45"/><circle cx="443.1" cy="157.6" r="2.45"/><circle cx="440" cy="203" r="2.45"/><circle cx="460.5" cy="153.6" r="2.45"/><circle cx="484.9" cy="133.1" r="2.45"/><circle cx="446.1" cy="203" r="2.45"/><circle cx="437.8" cy="174.1" r="2.45"/><circle cx="456.3" cy="104.2" r="2.45"/><circle cx="476.7" cy="71.3" r="2.45"/><circle cx="465.9" cy="315.9" r="2.45"/><circle cx="450.6" cy="282.7" r="2.45"/><circle cx="463.5" cy="315.9" r="2.45"/><circle cx="486" cy="108.4" r="2.45"/><circle cx="444.1" cy="174.1" r="2.45"/><circle cx="453" cy="249.5" r="2.45"/><circle cx="468" cy="322.1" r="2.45"/><circle cx="463.5" cy="239.7" r="2.45"/><circle cx="445.9" cy="133.1" r="2.45"/><circle cx="488.3" cy="252.4" r="2.45"/><circle cx="446.6" cy="108.4" r="2.45"/><circle cx="469.6" cy="120.7" r="2.45"/><circle cx="467.9" cy="120.7" r="2.45"/><circle cx="482.9" cy="71.3" r="2.45"/><circle cx="487.4" cy="256.1" r="2.45"/><circle cx="449.6" cy="141.2" r="2.45"/><circle cx="436.6" cy="252.4" r="2.45"/><circle cx="483.8" cy="166.3" r="2.45"/><circle cx="460" cy="137.1" r="2.45"/><circle cx="474.1" cy="183" r="2.45"/><circle cx="468.3" cy="116.5" r="2.45"/><circle cx="452.6" cy="249.5" r="2.45"/><circle cx="472.3" cy="206.9" r="2.45"/><circle cx="479.3" cy="108.4" r="2.45"/><circle cx="443.5" cy="133.1" r="2.45"/><circle cx="469.5" cy="120.7" r="2.45"/><circle cx="471.6" cy="315.9" r="2.45"/><circle cx="442.3" cy="116.5" r="2.45"/><circle cx="476.2" cy="170.1" r="2.45"/><circle cx="484.2" cy="288.9" r="2.45"/><circle cx="464.7" cy="174.1" r="2.45"/><circle cx="487.3" cy="99.8" r="2.45"/><circle cx="454.5" cy="54.7" r="2.45"/><circle cx="434.1" cy="170.1" r="2.45"/><circle cx="473.8" cy="99.8" r="2.45"/><circle cx="443.4" cy="124.8" r="2.45"/><circle cx="439.5" cy="120.7" r="2.45"/><circle cx="467.4" cy="92" r="2.45"/><circle cx="442.4" cy="199.6" r="2.45"/><circle cx="477.3" cy="252.4" r="2.45"/><circle cx="485.2" cy="71.3" r="2.45"/><circle cx="464.3" cy="249.5" r="2.45"/><circle cx="447.3" cy="141.2" r="2.45"/><circle cx="450.7" cy="92" r="2.45"/><circle cx="464.4" cy="186.5" r="2.45"/><circle cx="471.4" cy="249.5" r="2.45"/><circle cx="436" cy="141.2" r="2.45"/><circle cx="457.1" cy="232.8" r="2.45"/><circle cx="473.9" cy="216.2" r="2.45"/><circle cx="441.7" cy="174.1" r="2.45"/><circle cx="448.4" cy="256.1" r="2.45"/><circle cx="470.3" cy="249.5" r="2.45"/><circle cx="472.6" cy="157.6" r="2.45"/><circle cx="472.7" cy="124.8" r="2.45"/><circle cx="456.6" cy="219.4" r="2.45"/><circle cx="464.9" cy="99.8" r="2.45"/><circle cx="455.4" cy="206.9" r="2.45"/><circle cx="481.6" cy="249.5" r="2.45"/><circle cx="463.9" cy="75.6" r="2.45"/><circle cx="433.8" cy="153.6" r="2.45"/><circle cx="481.5" cy="183" r="2.45"/><circle cx="435" cy="104.2" r="2.45"/><circle cx="463.3" cy="301.7" r="2.45"/><circle cx="443.1" cy="249.5" r="2.45"/><circle cx="446.2" cy="83.2" r="2.45"/><circle cx="441.6" cy="268.8" r="2.45"/><circle cx="435.1" cy="83.2" r="2.45"/><circle cx="435.2" cy="54.7" r="2.45"/><circle cx="440.5" cy="249.5" r="2.45"/><circle cx="473.2" cy="183" r="2.45"/><circle cx="440.4" cy="75.6" r="2.45"/><circle cx="434.9" cy="249.5" r="2.45"/><circle cx="468.6" cy="108.4" r="2.45"/><circle cx="463.6" cy="83.2" r="2.45"/><circle cx="471.8" cy="83.2" r="2.45"/><circle cx="464.8" cy="153.6" r="2.45"/><circle cx="437.4" cy="235.9" r="2.45"/><circle cx="441.2" cy="137.1" r="2.45"/><circle cx="465.3" cy="235.9" r="2.45"/><circle cx="486.8" cy="124.8" r="2.45"/><circle cx="473.9" cy="174.1" r="2.45"/><circle cx="448.1" cy="116.5" r="2.45"/><circle cx="472.9" cy="206.9" r="2.45"/><circle cx="466.5" cy="256.1" r="2.45"/><circle cx="476.9" cy="66.6" r="2.45"/><circle cx="467.1" cy="174.1" r="2.45"/><circle cx="435.7" cy="137.1" r="2.45"/><circle cx="474.7" cy="99.8" r="2.45"/><circle cx="439.2" cy="223.3" r="2.45"/><circle cx="485.3" cy="108.4" r="2.45"/><circle cx="476" cy="206.9" r="2.45"/><circle cx="455.5" cy="54.7" r="2.45"/><circle cx="464.3" cy="249.5" r="2.45"/><circle cx="446.6" cy="232.8" r="2.45"/><circle cx="480.2" cy="166.3" r="2.45"/><circle cx="480.2" cy="92" r="2.45"/><circle cx="438.3" cy="157.6" r="2.45"/><circle cx="475.7" cy="137.1" r="2.45"/><circle cx="455.9" cy="149.7" r="2.45"/><circle cx="465.6" cy="75.6" r="2.45"/><circle cx="437.4" cy="252.4" r="2.45"/><circle cx="440.9" cy="301.7" r="2.45"/><circle cx="483.7" cy="157.6" r="2.45"/><circle cx="481.1" cy="268.8" r="2.45"/><circle cx="445.3" cy="149.7" r="2.45"/><circle cx="443.2" cy="249.5" r="2.45"/><circle cx="479.5" cy="216.2" r="2.45"/><circle cx="443.9" cy="153.6" r="2.45"/><circle cx="488.1" cy="256.1" r="2.45"/><circle cx="437.3" cy="153.6" r="2.45"/><circle cx="440" cy="183" r="2.45"/><circle cx="464.2" cy="186.5" r="2.45"/><circle cx="468.7" cy="83.2" r="2.45"/><circle cx="476.4" cy="66.6" r="2.45"/><circle cx="486.1" cy="239.7" r="2.45"/><circle cx="484.6" cy="232.8" r="2.45"/><circle cx="477.1" cy="203" r="2.45"/><circle cx="469.1" cy="256.1" r="2.45"/><circle cx="445.6" cy="256.1" r="2.45"/><circle cx="435.4" cy="166.3" r="2.45"/><circle cx="479.6" cy="141.2" r="2.45"/><circle cx="484.5" cy="170.1" r="2.45"/><circle cx="434.8" cy="137.1" r="2.45"/><circle cx="476" cy="133.1" r="2.45"/><circle cx="482.8" cy="149.7" r="2.45"/><circle cx="468.5" cy="232.8" r="2.45"/><circle cx="481.5" cy="75.6" r="2.45"/><circle cx="445.6" cy="75.6" r="2.45"/><circle cx="451.5" cy="249.5" r="2.45"/><circle cx="471.1" cy="124.8" r="2.45"/><circle cx="472" cy="104.2" r="2.45"/><circle cx="453.4" cy="206.9" r="2.45"/><circle cx="478.6" cy="75.6" r="2.45"/><circle cx="477.4" cy="133.1" r="2.45"/><circle cx="479.7" cy="186.5" r="2.45"/><circle cx="484.8" cy="219.4" r="2.45"/><circle cx="454.9" cy="249.5" r="2.45"/><circle cx="468.5" cy="99.8" r="2.45"/><circle cx="455.8" cy="190.5" r="2.45"/><circle cx="469.6" cy="256.1" r="2.45"/><circle cx="453.2" cy="87.8" r="2.45"/><circle cx="484.2" cy="186.5" r="2.45"/><circle cx="454.8" cy="249.5" r="2.45"/><circle cx="453.1" cy="133.1" r="2.45"/><circle cx="486.7" cy="108.4" r="2.45"/><circle cx="485.6" cy="124.8" r="2.45"/><circle cx="433.5" cy="108.4" r="2.45"/><circle cx="481.1" cy="249.5" r="2.45"/><circle cx="466.6" cy="190.5" r="2.45"/><circle cx="455.4" cy="203" r="2.45"/><circle cx="457.9" cy="149.7" r="2.45"/><circle cx="468.6" cy="141.2" r="2.45"/><circle cx="476.4" cy="272.5" r="2.45"/><circle cx="487.3" cy="116.5" r="2.45"/><circle cx="440.6" cy="232.8" r="2.45"/><circle cx="474.1" cy="219.4" r="2.45"/><circle cx="436.6" cy="66.6" r="2.45"/><circle cx="478.2" cy="133.1" r="2.45"/><circle cx="458.9" cy="133.1" r="2.45"/><circle cx="446" cy="315.9" r="2.45"/><circle cx="475.4" cy="219.4" r="2.45"/><circle cx="482.9" cy="66.6" r="2.45"/><circle cx="469" cy="315.9" r="2.45"/><circle cx="463.8" cy="133.1" r="2.45"/><circle cx="483.3" cy="235.9" r="2.45"/><circle cx="465" cy="190.5" r="2.45"/><circle cx="457.2" cy="116.5" r="2.45"/><circle cx="459.7" cy="239.7" r="2.45"/><circle cx="468.8" cy="266.1" r="2.45"/><circle cx="439.8" cy="141.2" r="2.45"/><circle cx="474" cy="87.8" r="2.45"/><circle cx="473.2" cy="99.8" r="2.45"/><circle cx="436.2" cy="83.2" r="2.45"/><circle cx="433.2" cy="249.5" r="2.45"/><circle cx="466.3" cy="166.3" r="2.45"/><circle cx="483.1" cy="199.6" r="2.45"/><circle cx="463.2" cy="170.1" r="2.45"/><circle cx="444" cy="83.2" r="2.45"/><circle cx="441" cy="149.7" r="2.45"/><circle cx="484.5" cy="249.5" r="2.45"/><circle cx="476.9" cy="116.5" r="2.45"/><circle cx="463.5" cy="108.4" r="2.45"/><circle cx="468.2" cy="108.4" r="2.45"/><circle cx="465.9" cy="124.8" r="2.45"/><circle cx="484.5" cy="256.1" r="2.45"/><circle cx="481" cy="116.5" r="2.45"/><circle cx="454.3" cy="174.1" r="2.45"/><circle cx="435.3" cy="219.4" r="2.45"/><circle cx="467.3" cy="120.7" r="2.45"/><circle cx="439.9" cy="99.8" r="2.45"/><circle cx="470.6" cy="186.5" r="2.45"/><circle cx="454.9" cy="75.6" r="2.45"/><circle cx="445.9" cy="116.5" r="2.45"/><circle cx="458.5" cy="183" r="2.45"/><circle cx="439" cy="54.7" r="2.45"/><circle cx="456.4" cy="99.8" r="2.45"/><circle cx="441.5" cy="183" r="2.45"/><circle cx="439.5" cy="66.6" r="2.45"/><circle cx="436.1" cy="108.4" r="2.45"/><circle cx="483.6" cy="305.3" r="2.45"/><circle cx="448.7" cy="206.9" r="2.45"/><circle cx="459.1" cy="223.3" r="2.45"/><circle cx="443.3" cy="157.6" r="2.45"/><circle cx="437.9" cy="282.7" r="2.45"/><circle cx="470.1" cy="223.3" r="2.45"/><circle cx="441.4" cy="116.5" r="2.45"/><circle cx="455.2" cy="54.7" r="2.45"/><circle cx="435.1" cy="116.5" r="2.45"/><circle cx="477.4" cy="124.8" r="2.45"/><circle cx="445.8" cy="266.1" r="2.45"/><circle cx="445.1" cy="256.1" r="2.45"/><circle cx="444.6" cy="108.4" r="2.45"/><circle cx="452.8" cy="252.4" r="2.45"/><circle cx="486.4" cy="186.5" r="2.45"/><circle cx="464.8" cy="239.7" r="2.45"/><circle cx="476" cy="174.1" r="2.45"/><circle cx="474.3" cy="99.8" r="2.45"/><circle cx="440.5" cy="256.1" r="2.45"/><circle cx="449.1" cy="190.5" r="2.45"/><circle cx="479.2" cy="219.4" r="2.45"/><circle cx="482.3" cy="223.3" r="2.45"/><circle cx="450.4" cy="104.2" r="2.45"/><circle cx="468.9" cy="232.8" r="2.45"/><circle cx="442.1" cy="166.3" r="2.45"/><circle cx="466.2" cy="120.7" r="2.45"/><circle cx="433.7" cy="249.5" r="2.45"/><circle cx="456.7" cy="108.4" r="2.45"/><circle cx="442.4" cy="249.5" r="2.45"/><circle cx="455.9" cy="219.4" r="2.45"/><circle cx="453.5" cy="232.8" r="2.45"/><circle cx="442.6" cy="203" r="2.45"/><circle cx="435.4" cy="75.6" r="2.45"/><circle cx="472.1" cy="124.8" r="2.45"/><circle cx="441.6" cy="256.1" r="2.45"/><circle cx="476.9" cy="120.7" r="2.45"/><circle cx="442.2" cy="124.8" r="2.45"/><circle cx="453.6" cy="157.6" r="2.45"/><circle cx="478.4" cy="223.3" r="2.45"/><circle cx="472.5" cy="124.8" r="2.45"/><circle cx="457.9" cy="141.2" r="2.45"/><circle cx="485.1" cy="223.3" r="2.45"/><circle cx="436.6" cy="87.8" r="2.45"/><circle cx="461.4" cy="116.5" r="2.45"/><circle cx="460.3" cy="149.7" r="2.45"/><circle cx="484.2" cy="266.1" r="2.45"/><circle cx="450.2" cy="216.2" r="2.45"/><circle cx="452.1" cy="266.1" r="2.45"/><circle cx="448.2" cy="170.1" r="2.45"/><circle cx="439.6" cy="170.1" r="2.45"/><circle cx="444.7" cy="149.7" r="2.45"/><circle cx="450.8" cy="92" r="2.45"/><circle cx="452.9" cy="203" r="2.45"/></g>
<g class="g"><circle cx="575.8" cy="71.1" r="2.45"/><circle cx="574.9" cy="83.3" r="2.45"/><circle cx="604.5" cy="83.3" r="2.45"/><circle cx="592.3" cy="103.8" r="2.45"/><circle cx="603.4" cy="103.8" r="2.45"/><circle cx="593.2" cy="116.7" r="2.45"/><circle cx="598.5" cy="125.2" r="2.45"/><circle cx="581.6" cy="133.1" r="2.45"/><circle cx="611.7" cy="133.1" r="2.45"/><circle cx="617.5" cy="133.1" r="2.45"/><circle cx="597.4" cy="141.4" r="2.45"/><circle cx="610.5" cy="141.4" r="2.45"/><circle cx="590.7" cy="150.1" r="2.45"/><circle cx="588.5" cy="153.2" r="2.45"/><circle cx="603.4" cy="153.2" r="2.45"/><circle cx="573.5" cy="157.6" r="2.45"/><circle cx="588.5" cy="157.6" r="2.45"/><circle cx="615.2" cy="157.6" r="2.45"/><circle cx="622.3" cy="157.6" r="2.45"/><circle cx="578.8" cy="169.7" r="2.45"/><circle cx="583.2" cy="169.7" r="2.45"/><circle cx="586.2" cy="169.7" r="2.45"/><circle cx="579.3" cy="174.1" r="2.45"/><circle cx="595.5" cy="166.4" r="2.45"/><circle cx="596" cy="169.7" r="2.45"/><circle cx="596.3" cy="169.9" r="2.45"/><circle cx="603.8" cy="166.7" r="2.45"/><circle cx="610" cy="166.7" r="2.45"/><circle cx="613.7" cy="166.7" r="2.45"/><circle cx="617.7" cy="169.7" r="2.45"/><circle cx="593.2" cy="182.6" r="2.45"/><circle cx="584.1" cy="186.5" r="2.45"/><circle cx="594.6" cy="186.5" r="2.45"/><circle cx="601.3" cy="191.4" r="2.45"/><circle cx="620.2" cy="190.9" r="2.45"/><circle cx="581.4" cy="199.7" r="2.45"/><circle cx="584.6" cy="202.5" r="2.45"/><circle cx="590.6" cy="202.5" r="2.45"/><circle cx="625.8" cy="199.7" r="2.45"/><circle cx="601.3" cy="216.2" r="2.45"/><circle cx="584.9" cy="219" r="2.45"/><circle cx="606.1" cy="219" r="2.45"/><circle cx="619.6" cy="219" r="2.45"/><circle cx="623.3" cy="219" r="2.45"/><circle cx="617.9" cy="223.3" r="2.45"/><circle cx="620.2" cy="233" r="2.45"/><circle cx="620.4" cy="233" r="2.45"/><circle cx="626.3" cy="233" r="2.45"/><circle cx="626.5" cy="233" r="2.45"/><circle cx="607.7" cy="235.8" r="2.45"/><circle cx="609.2" cy="235.8" r="2.45"/><circle cx="586.7" cy="240" r="2.45"/><circle cx="591.8" cy="240" r="2.45"/><circle cx="610.5" cy="240" r="2.45"/><circle cx="613.1" cy="240" r="2.45"/><circle cx="614" cy="256.4" r="2.45"/><circle cx="580.8" cy="266.3" r="2.45"/><circle cx="615.6" cy="322" r="2.45"/><circle cx="618" cy="322" r="2.45"/><circle cx="624.9" cy="322" r="2.45"/></g>
<path d="M124.2 168.9L130.15 179.2L118.25 179.2Z" fill="#FF0000" stroke="#000" stroke-width=".95" stroke-linejoin="miter"/>
<path d="M263.8 179.5L269.80 189.9L257.80 189.9Z" fill="#FF0000" stroke="#000" stroke-width=".95" stroke-linejoin="miter"/>
<path d="M460.8 168.6L466.57 178.6L455.03 178.6Z" fill="#FF0000" stroke="#000" stroke-width=".95" stroke-linejoin="miter"/>
<path d="M600.3 180.7L606.07 190.7L594.53 190.7Z" fill="#FF0000" stroke="#000" stroke-width=".95" stroke-linejoin="miter"/>
<rect x="18.1" y="41.2" width="22.20" height="294.25" fill="#D9D9D9"/>
<rect x="18.50" y="41.60" width="21.40" height="293.45" fill="none" stroke="#484848" stroke-width="0.8"/>
<rect x="40.70" y="41.60" width="306.40" height="293.45" fill="none" stroke="#484848" stroke-width="0.8"/>
<path d="M40.3 41.2V335.45" stroke="#333" stroke-width="1.1"/>
<text transform="translate(32.5 188.3) rotate(-90)" text-anchor="middle" font-size="12" fill="#1A1A1A">activity</text>
<path d="M124.1 335.45v3.7M263.7 335.45v3.7" stroke="#333" stroke-width="1.3"/>
<text class="ax" x="124.1" y="350.9" text-anchor="middle">none</text>
<text class="ax" x="263.7" y="350.9" text-anchor="middle">dog</text>
<rect x="354.2" y="41.2" width="22.90" height="294.25" fill="#D9D9D9"/>
<rect x="354.60" y="41.60" width="22.10" height="293.45" fill="none" stroke="#484848" stroke-width="0.8"/>
<rect x="377.50" y="41.60" width="305.90" height="293.45" fill="none" stroke="#484848" stroke-width="0.8"/>
<path d="M377.1 41.2V335.45" stroke="#333" stroke-width="1.1"/>
<text transform="translate(368.9 188.3) rotate(-90)" text-anchor="middle" font-size="12" fill="#1A1A1A">WHO5 score</text>
<path d="M460.8 335.45v3.7M600.4 335.45v3.7" stroke="#333" stroke-width="1.3"/>
<text class="ax" x="460.8" y="350.9" text-anchor="middle">none</text>
<text class="ax" x="600.4" y="350.9" text-anchor="middle">dog</text>
<path d="M14.4 283.89H18.1M14.4 230.17H18.1M14.4 176.45H18.1M14.4 122.73H18.1M14.4 69.01H18.1" stroke="#333" stroke-width="1.3"/>
<text class="ax" x="11.5" y="288.5" text-anchor="end">-2</text>
<text class="ax" x="11.5" y="234.8" text-anchor="end">-1</text>
<text class="ax" x="11.5" y="181.0" text-anchor="end">0</text>
<text class="ax" x="11.5" y="127.3" text-anchor="end">1</text>
<text class="ax" x="11.5" y="73.6" text-anchor="end">2</text>
<text transform="translate(362.4 366.9) scale(1.08 1)" text-anchor="middle" font-size="13.8" fill="#000" style="text-rendering:geometricPrecision">animal</text>
<g stroke="#F8766D" fill="none" stroke-width="1.2"><path d="M255.4 1.1V4.6M255.4 15.2V18.6"/><rect x="247.25" y="4.6" width="16.3" height="10.6" fill="#fff"/><path d="M247.25 9.6H263.55"/></g><circle cx="255.4" cy="9.6" r="2.5" fill="#F8766D" fill-opacity=".7"/>
<g stroke="#7CAE00" fill="none" stroke-width="1.2"><path d="M391.5 1.1V4.6M391.5 15.2V18.6"/><rect x="383.35" y="4.6" width="16.3" height="10.6" fill="#fff"/><path d="M383.35 9.6H399.65"/></g><circle cx="391.5" cy="9.6" r="2.5" fill="#7CAE00" fill-opacity=".7"/>
<text x="273.3" y="13.6" font-size="12.05" fill="#000">did not adopt a pet</text>
<text x="409.5" y="13.6" font-size="12.05" fill="#000">adopted a dog</text>
</svg>
</body></html>
